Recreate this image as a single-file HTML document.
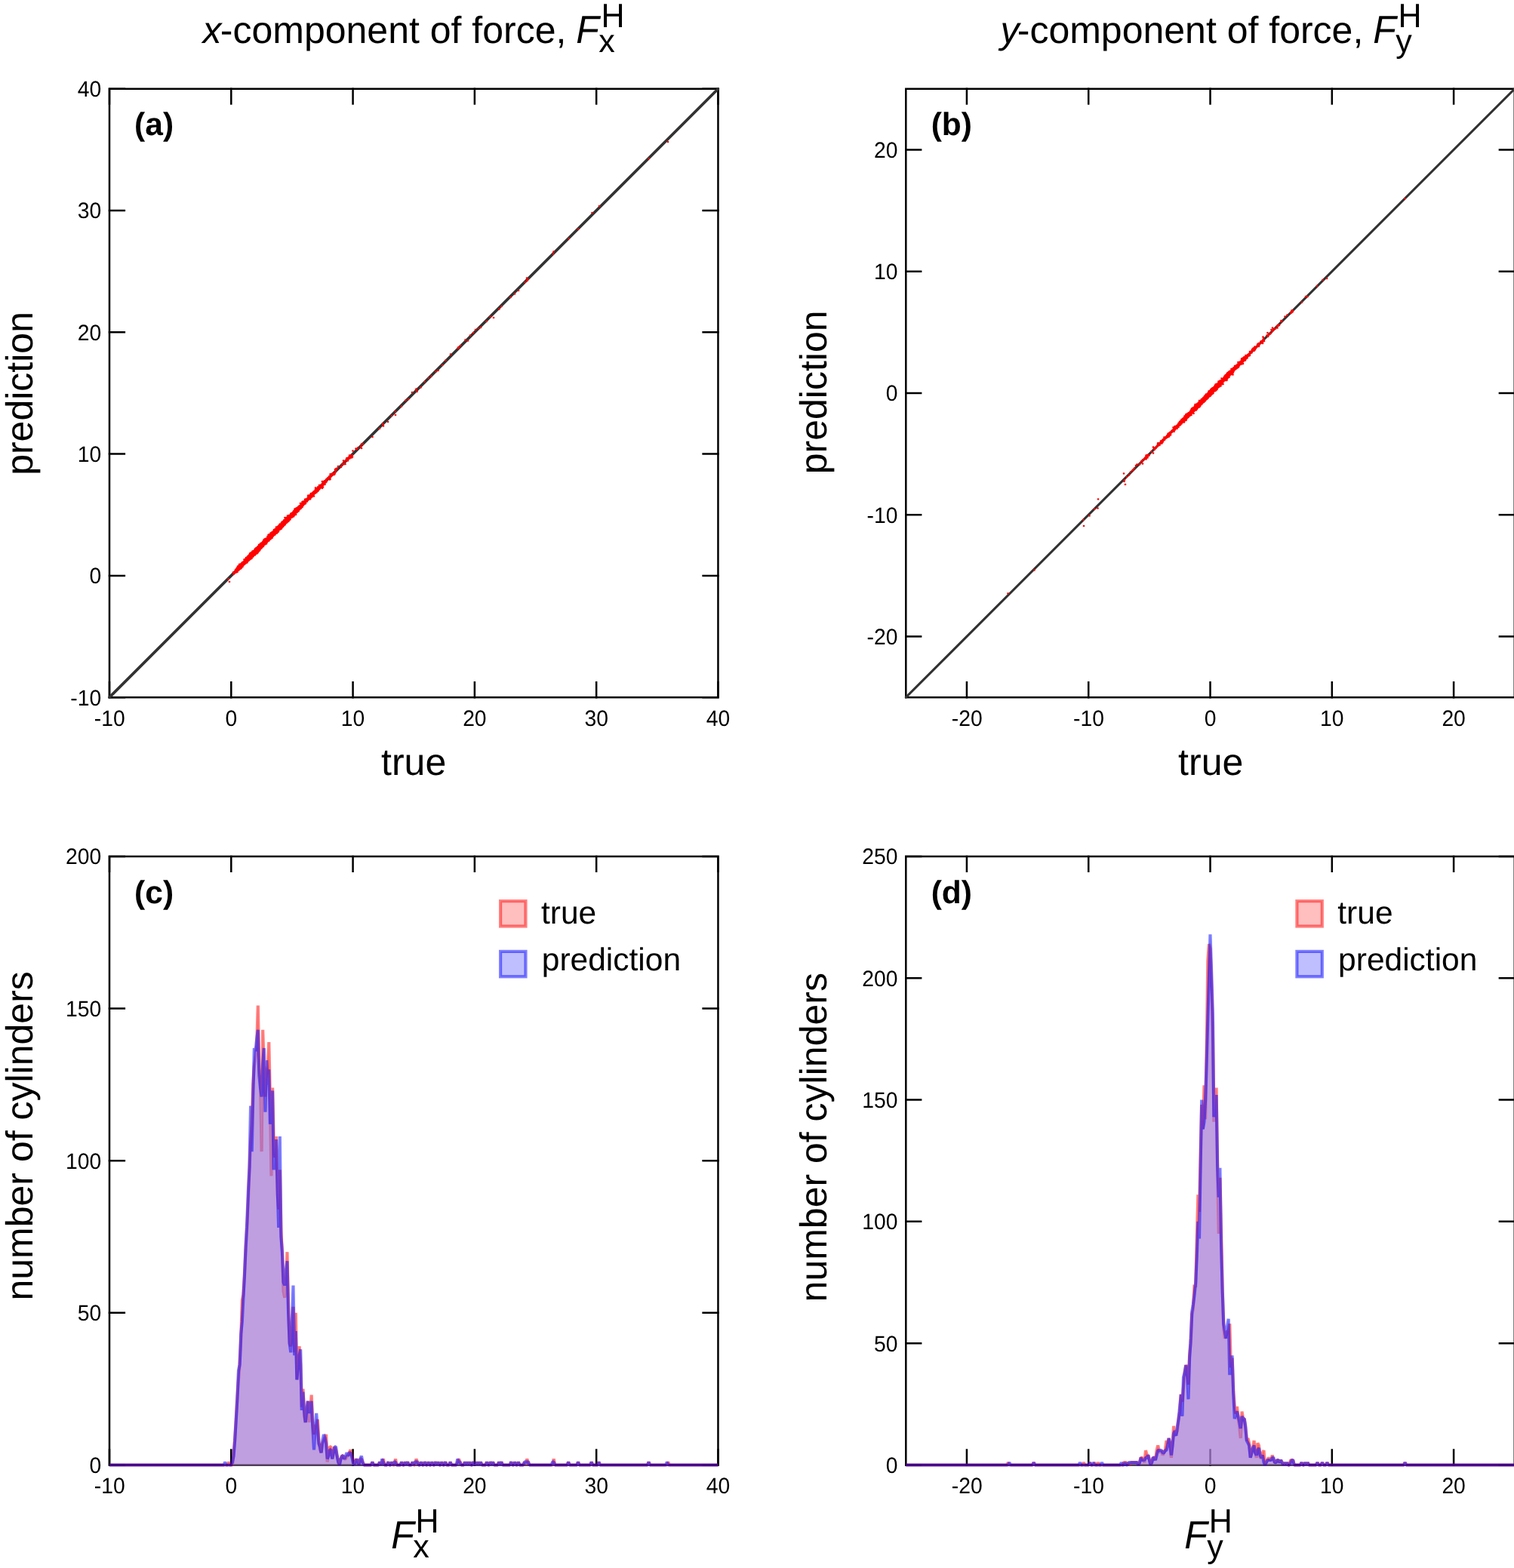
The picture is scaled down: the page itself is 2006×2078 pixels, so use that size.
<!DOCTYPE html>
<html lang="en"><head><meta charset="utf-8"><title>Prediction of hydrodynamic force components</title>
<style>
html,body{margin:0;padding:0;background:#fff}
body{width:2006px;height:2078px;overflow:hidden}
svg{display:block;font-family:"Liberation Sans", Arial, Helvetica, sans-serif;fill:#000;text-rendering:geometricPrecision}
.ax{fill:none;stroke:#000;stroke-width:2.5;stroke-linecap:butt;stroke-linejoin:miter}
.dg{fill:none;stroke:#333;stroke-linecap:round}
.dot{fill:none;stroke:#f00;stroke-width:2.7;stroke-linecap:round}
.rf{fill:#ff8080;fill-opacity:.5;stroke:none}.bf{fill:#8080ff;fill-opacity:.5;stroke:none}
.rl{fill:none;stroke:#f00;stroke-opacity:.5;stroke-width:4.17;stroke-linejoin:bevel}
.bl{fill:none;stroke:#00f;stroke-opacity:.5;stroke-width:4.17;stroke-linejoin:bevel}
.rb{fill:#ff8080;fill-opacity:.5;stroke:#f00;stroke-opacity:.5;stroke-width:4.17}
.bb{fill:#8080ff;fill-opacity:.5;stroke:#00f;stroke-opacity:.5;stroke-width:4.17}
.tk{font-size:28.3px}
.t{font-size:50px}.s{font-size:43px}.i{font-style:italic}
.pl{font-size:42.5px;font-weight:bold}.lg{font-size:42.5px}
</style></head><body>
<svg xmlns="http://www.w3.org/2000/svg" width="2006" height="2078" viewBox="0 0 2006 2078">
<rect x="0" y="0" width="2006" height="2078" fill="#fff"/>
<g>
<text class="t i" x="268.6" y="56.9">x</text>
<text class="t" x="291.8" y="56.9">-component of force,</text>
<text class="t i" transform="translate(763.3 56.9) scale(1 1.04)">F</text><text class="s" x="793.3" y="68.8">x</text><text class="s" transform="translate(796.5 35.95) scale(1 1.04)">H</text>
<clipPath id="ca"><rect x="142.91" y="115.67" width="810.62" height="810.62"/></clipPath>
<path class="ax" d="M145 925.45v-22.35M145 116.5v22.35M306.29 925.45v-22.35M306.29 116.5v22.35M467.58 925.45v-22.35M467.58 116.5v22.35M628.87 925.45v-22.35M628.87 116.5v22.35M790.16 925.45v-22.35M790.16 116.5v22.35M951.45 925.45v-22.35M951.45 116.5v22.35M143.75 924.2h22.35M952.7 924.2h-22.35M143.75 762.91h22.35M952.7 762.91h-22.35M143.75 601.62h22.35M952.7 601.62h-22.35M143.75 440.33h22.35M952.7 440.33h-22.35M143.75 279.04h22.35M952.7 279.04h-22.35M143.75 117.75h22.35M952.7 117.75h-22.35"/>
<rect class="ax" x="145" y="117.75" width="806.45" height="806.45"/>
<g clip-path="url(#ca)">
<path class="dg" stroke-width="3.75" d="M145 924.2L951.45 117.75"/>
<path class="dot" d="M302.5 767h0M304 771h0M309 758.5h0M309.5 759h0M309.5 761h0M310.5 758h0M310.5 759h0M310.5 759.5h0M311 758h0M311 759.5h0M311.5 758.5h0M312 755h0M312 757h0M312 757.5h0M312.5 755.5h0M312.5 756.5h0M312.5 757.5h0M312.5 758.5h0M313 755h0M313 756h0M313 756.5h0M313 757.5h0M313 758.5h0M313.5 753.5h0M313.5 754h0M313.5 754.5h0M313.5 756.5h0M314 752.5h0M314 753.5h0M314 754.5h0M314 755h0M314 756h0M314 756.5h0M314 757h0M314 757.5h0M314.5 753.5h0M314.5 754h0M314.5 755h0M314.5 758h0M315 750.5h0M315 751.5h0M315 753h0M315 753.5h0M315 754h0M315 755h0M315 755.5h0M315 756.5h0M315.5 753h0M315.5 753.5h0M315.5 754.5h0M315.5 755h0M315.5 755.5h0M316 750h0M316 752.5h0M316 753h0M316 755h0M316.5 750h0M316.5 752.5h0M316.5 753.5h0M316.5 754.5h0M316.5 755.5h0M317 748h0M317 750h0M317 751h0M317 752h0M317 753h0M317 753.5h0M317 754h0M317.5 750.5h0M317.5 751h0M317.5 751.5h0M317.5 752h0M317.5 752.5h0M317.5 753h0M318 749.5h0M318 750.5h0M318 751h0M318 751.5h0M318 752h0M318 752.5h0M318 753h0M318 754h0M318.5 747.5h0M318.5 748h0M318.5 749.5h0M318.5 750h0M318.5 750.5h0M318.5 751.5h0M318.5 752.5h0M319 747.5h0M319 748.5h0M319 749.5h0M319 750.5h0M319 752h0M319 753.5h0M319.5 748.5h0M319.5 749h0M319.5 749.5h0M319.5 750h0M319.5 750.5h0M319.5 751.5h0M320 747h0M320 748h0M320 748.5h0M320 749h0M320 749.5h0M320 750h0M320 750.5h0M320 751h0M320 751.5h0M320 752h0M320 752.5h0M320.5 746h0M320.5 746.5h0M320.5 747h0M320.5 747.5h0M320.5 748h0M320.5 748.5h0M320.5 749h0M320.5 749.5h0M321 745.5h0M321 747h0M321 747.5h0M321 748h0M321 748.5h0M321 749h0M321 749.5h0M321 750h0M321 750.5h0M321.5 745h0M321.5 746h0M321.5 746.5h0M321.5 747h0M321.5 748h0M321.5 748.5h0M321.5 749h0M321.5 750h0M321.5 750.5h0M321.5 751h0M322 745h0M322 746h0M322 746.5h0M322 747h0M322 747.5h0M322 748h0M322 749h0M322.5 744.5h0M322.5 745h0M322.5 745.5h0M322.5 746h0M322.5 746.5h0M322.5 747h0M322.5 747.5h0M322.5 748.5h0M322.5 749h0M323 744.5h0M323 745.5h0M323 746h0M323 746.5h0M323 747h0M323 747.5h0M323 748.5h0M323.5 741.5h0M323.5 743.5h0M323.5 744h0M323.5 744.5h0M323.5 745h0M323.5 745.5h0M323.5 746h0M323.5 746.5h0M323.5 747h0M323.5 748h0M324 743h0M324 743.5h0M324 744h0M324 745h0M324 745.5h0M324 746h0M324 746.5h0M324 747h0M324 747.5h0M324.5 742h0M324.5 742.5h0M324.5 743h0M324.5 744h0M324.5 744.5h0M324.5 745h0M324.5 745.5h0M324.5 746h0M325 742h0M325 742.5h0M325 743h0M325 743.5h0M325 744h0M325 744.5h0M325 745h0M325 747h0M325.5 740.5h0M325.5 741.5h0M325.5 742h0M325.5 742.5h0M325.5 743h0M325.5 743.5h0M325.5 744h0M325.5 744.5h0M325.5 745h0M325.5 745.5h0M325.5 746h0M325.5 746.5h0M326 739h0M326 740h0M326 741h0M326 741.5h0M326 742h0M326 742.5h0M326 743h0M326 744h0M326 744.5h0M326 746h0M326.5 740h0M326.5 741h0M326.5 741.5h0M326.5 742h0M326.5 742.5h0M326.5 743h0M326.5 743.5h0M326.5 744h0M326.5 744.5h0M327 738.5h0M327 739.5h0M327 740.5h0M327 741h0M327 741.5h0M327 742h0M327 742.5h0M327 743h0M327 743.5h0M327 744h0M327.5 738.5h0M327.5 739h0M327.5 740.5h0M327.5 741h0M327.5 741.5h0M327.5 742h0M327.5 742.5h0M327.5 743h0M327.5 743.5h0M327.5 744h0M327.5 745.5h0M328 738h0M328 738.5h0M328 739.5h0M328 740h0M328 740.5h0M328 741h0M328 741.5h0M328 742h0M328 743h0M328 743.5h0M328 744h0M328.5 737h0M328.5 738h0M328.5 738.5h0M328.5 739h0M328.5 739.5h0M328.5 740h0M328.5 740.5h0M328.5 741h0M328.5 741.5h0M328.5 742h0M328.5 742.5h0M328.5 743.5h0M329 736.5h0M329 737.5h0M329 738h0M329 738.5h0M329 739h0M329 739.5h0M329 740h0M329 740.5h0M329 741h0M329 741.5h0M329 742h0M329 743h0M329.5 736.5h0M329.5 737.5h0M329.5 738h0M329.5 738.5h0M329.5 739h0M329.5 739.5h0M329.5 740h0M329.5 740.5h0M329.5 741h0M329.5 741.5h0M329.5 742h0M329.5 743h0M330 736h0M330 736.5h0M330 737h0M330 737.5h0M330 738h0M330 738.5h0M330 739h0M330 739.5h0M330 740h0M330 740.5h0M330 741h0M330 742h0M330.5 735h0M330.5 737h0M330.5 737.5h0M330.5 738h0M330.5 738.5h0M330.5 739h0M330.5 739.5h0M330.5 740h0M330.5 741h0M330.5 741.5h0M331 734h0M331 735.5h0M331 736h0M331 737h0M331 737.5h0M331 738h0M331 738.5h0M331 739.5h0M331 740h0M331 741h0M331 741.5h0M331.5 733h0M331.5 734h0M331.5 734.5h0M331.5 736h0M331.5 736.5h0M331.5 737h0M331.5 737.5h0M331.5 738h0M331.5 738.5h0M331.5 739h0M331.5 739.5h0M331.5 741h0M332 733h0M332 734h0M332 735h0M332 735.5h0M332 736h0M332 736.5h0M332 737h0M332 737.5h0M332 738h0M332 738.5h0M332 739h0M332 739.5h0M332 740h0M332 740.5h0M332.5 734h0M332.5 734.5h0M332.5 735h0M332.5 735.5h0M332.5 736h0M332.5 736.5h0M332.5 737h0M332.5 737.5h0M332.5 738h0M332.5 739.5h0M332.5 740.5h0M333 733h0M333 734.5h0M333 735h0M333 735.5h0M333 736h0M333 736.5h0M333 737h0M333 737.5h0M333 738h0M333.5 732h0M333.5 732.5h0M333.5 733h0M333.5 733.5h0M333.5 734h0M333.5 734.5h0M333.5 735h0M333.5 735.5h0M333.5 736h0M333.5 736.5h0M333.5 737h0M333.5 738h0M333.5 740h0M334 732h0M334 733h0M334 733.5h0M334 734h0M334 734.5h0M334 735h0M334 735.5h0M334 736h0M334 736.5h0M334 737h0M334 737.5h0M334 738h0M334.5 730.5h0M334.5 731h0M334.5 731.5h0M334.5 732.5h0M334.5 733h0M334.5 733.5h0M334.5 734h0M334.5 734.5h0M334.5 735h0M334.5 735.5h0M334.5 736h0M334.5 736.5h0M334.5 737.5h0M335 731h0M335 732h0M335 732.5h0M335 733h0M335 733.5h0M335 734h0M335 734.5h0M335 735h0M335 735.5h0M335 736.5h0M335 737.5h0M335 738h0M335.5 731.5h0M335.5 732h0M335.5 732.5h0M335.5 733h0M335.5 733.5h0M335.5 734h0M335.5 734.5h0M335.5 735h0M335.5 735.5h0M335.5 736h0M335.5 737h0M336 730h0M336 730.5h0M336 731h0M336 731.5h0M336 732h0M336 732.5h0M336 733h0M336 733.5h0M336 734h0M336 734.5h0M336 735.5h0M336 736.5h0M336.5 730h0M336.5 730.5h0M336.5 731h0M336.5 731.5h0M336.5 732h0M336.5 732.5h0M336.5 733h0M336.5 733.5h0M336.5 734h0M336.5 734.5h0M336.5 735h0M337 729.5h0M337 730h0M337 730.5h0M337 731h0M337 731.5h0M337 732h0M337 732.5h0M337 733h0M337 733.5h0M337 734h0M337 734.5h0M337 735h0M337.5 728.5h0M337.5 730h0M337.5 730.5h0M337.5 731h0M337.5 731.5h0M337.5 732h0M337.5 732.5h0M337.5 733h0M337.5 733.5h0M337.5 734h0M337.5 735.5h0M338 727.5h0M338 729h0M338 729.5h0M338 730h0M338 730.5h0M338 731h0M338 731.5h0M338 732h0M338 732.5h0M338 733h0M338 733.5h0M338 734h0M338 735.5h0M338.5 727h0M338.5 728h0M338.5 728.5h0M338.5 729h0M338.5 729.5h0M338.5 730h0M338.5 730.5h0M338.5 731h0M338.5 731.5h0M338.5 732h0M338.5 732.5h0M338.5 733.5h0M338.5 734.5h0M339 727h0M339 727.5h0M339 728h0M339 728.5h0M339 729h0M339 729.5h0M339 730h0M339 730.5h0M339 731h0M339 731.5h0M339 732h0M339 732.5h0M339 733h0M339.5 726h0M339.5 726.5h0M339.5 727h0M339.5 727.5h0M339.5 728h0M339.5 728.5h0M339.5 729h0M339.5 729.5h0M339.5 730h0M339.5 730.5h0M339.5 731h0M339.5 731.5h0M339.5 732h0M340 726.5h0M340 727h0M340 727.5h0M340 728h0M340 728.5h0M340 729h0M340 729.5h0M340 730h0M340 730.5h0M340 731h0M340 731.5h0M340.5 726.5h0M340.5 727h0M340.5 727.5h0M340.5 728h0M340.5 728.5h0M340.5 729h0M340.5 729.5h0M340.5 730h0M340.5 730.5h0M340.5 731h0M340.5 731.5h0M340.5 733.5h0M341 725.5h0M341 726h0M341 726.5h0M341 727h0M341 727.5h0M341 728h0M341 728.5h0M341 729h0M341 729.5h0M341 730.5h0M341.5 724.5h0M341.5 725h0M341.5 725.5h0M341.5 726h0M341.5 726.5h0M341.5 727h0M341.5 727.5h0M341.5 728h0M341.5 728.5h0M341.5 729h0M341.5 729.5h0M341.5 730h0M341.5 730.5h0M341.5 731h0M341.5 732.5h0M342 724h0M342 724.5h0M342 725h0M342 725.5h0M342 726h0M342 726.5h0M342 727h0M342 728h0M342 729h0M342 729.5h0M342 730h0M342.5 724h0M342.5 724.5h0M342.5 725h0M342.5 725.5h0M342.5 726h0M342.5 726.5h0M342.5 727h0M342.5 727.5h0M342.5 728h0M342.5 728.5h0M342.5 729h0M342.5 730.5h0M342.5 731h0M343 722h0M343 723h0M343 723.5h0M343 724.5h0M343 725h0M343 725.5h0M343 726h0M343 726.5h0M343 727h0M343 727.5h0M343 728h0M343 728.5h0M343.5 722h0M343.5 723.5h0M343.5 724h0M343.5 724.5h0M343.5 725h0M343.5 725.5h0M343.5 726h0M343.5 726.5h0M343.5 727h0M343.5 727.5h0M344 722h0M344 722.5h0M344 723h0M344 723.5h0M344 724h0M344 724.5h0M344 725h0M344 725.5h0M344 726h0M344 726.5h0M344 727h0M344 728h0M344 728.5h0M344 729.5h0M344.5 721.5h0M344.5 722h0M344.5 722.5h0M344.5 723h0M344.5 723.5h0M344.5 724h0M344.5 724.5h0M344.5 725h0M344.5 725.5h0M344.5 726h0M344.5 726.5h0M344.5 727h0M344.5 728.5h0M345 720.5h0M345 721.5h0M345 722h0M345 722.5h0M345 723h0M345 723.5h0M345 724h0M345 724.5h0M345 725h0M345 725.5h0M345 726h0M345 726.5h0M345 727.5h0M345.5 721h0M345.5 721.5h0M345.5 722h0M345.5 722.5h0M345.5 723h0M345.5 723.5h0M345.5 724h0M345.5 724.5h0M345.5 725h0M345.5 725.5h0M345.5 726h0M345.5 726.5h0M346 721h0M346 721.5h0M346 722h0M346 722.5h0M346 723h0M346 723.5h0M346 724h0M346 724.5h0M346 725h0M346 725.5h0M346 726h0M346 726.5h0M346.5 719.5h0M346.5 720h0M346.5 720.5h0M346.5 721h0M346.5 721.5h0M346.5 722h0M346.5 722.5h0M346.5 723h0M346.5 723.5h0M346.5 724h0M346.5 725.5h0M346.5 726h0M346.5 726.5h0M347 720h0M347 720.5h0M347 721h0M347 721.5h0M347 722h0M347 722.5h0M347 723h0M347 723.5h0M347 724h0M347 724.5h0M347 725h0M347 725.5h0M347.5 719h0M347.5 719.5h0M347.5 720h0M347.5 720.5h0M347.5 721h0M347.5 721.5h0M347.5 722h0M347.5 722.5h0M347.5 723h0M347.5 723.5h0M347.5 725h0M348 718.5h0M348 719h0M348 719.5h0M348 720h0M348 720.5h0M348 721h0M348 721.5h0M348 722h0M348 722.5h0M348 723h0M348 723.5h0M348.5 717.5h0M348.5 718h0M348.5 718.5h0M348.5 719h0M348.5 719.5h0M348.5 720h0M348.5 720.5h0M348.5 721h0M348.5 721.5h0M348.5 722h0M348.5 722.5h0M348.5 723h0M348.5 724h0M349 718h0M349 718.5h0M349 719h0M349 719.5h0M349 720h0M349 720.5h0M349 721h0M349 721.5h0M349 722h0M349 723h0M349 724h0M349.5 715.5h0M349.5 716h0M349.5 717h0M349.5 717.5h0M349.5 718h0M349.5 718.5h0M349.5 719h0M349.5 719.5h0M349.5 720h0M349.5 720.5h0M349.5 721h0M349.5 721.5h0M349.5 722h0M349.5 722.5h0M350 715.5h0M350 716h0M350 717h0M350 717.5h0M350 718h0M350 718.5h0M350 719h0M350 719.5h0M350 720h0M350 720.5h0M350 721h0M350 721.5h0M350 722h0M350.5 714.5h0M350.5 715.5h0M350.5 716.5h0M350.5 717.5h0M350.5 718h0M350.5 718.5h0M350.5 719h0M350.5 719.5h0M350.5 720h0M350.5 720.5h0M350.5 721.5h0M351 715.5h0M351 716h0M351 716.5h0M351 717.5h0M351 718h0M351 718.5h0M351 719h0M351 719.5h0M351 720h0M351 720.5h0M351 721.5h0M351.5 714h0M351.5 715h0M351.5 715.5h0M351.5 716h0M351.5 716.5h0M351.5 717h0M351.5 717.5h0M351.5 718h0M351.5 718.5h0M351.5 719h0M351.5 720h0M351.5 720.5h0M351.5 721h0M352 714h0M352 714.5h0M352 715h0M352 715.5h0M352 716h0M352 716.5h0M352 717h0M352 717.5h0M352 718h0M352 718.5h0M352 719h0M352 719.5h0M352 720.5h0M352.5 714.5h0M352.5 715h0M352.5 715.5h0M352.5 716h0M352.5 716.5h0M352.5 717h0M352.5 717.5h0M352.5 718h0M352.5 718.5h0M352.5 719h0M352.5 719.5h0M352.5 720h0M353 714h0M353 714.5h0M353 715h0M353 715.5h0M353 716h0M353 716.5h0M353 717h0M353 717.5h0M353 718h0M353 718.5h0M353 720.5h0M353.5 714h0M353.5 714.5h0M353.5 715h0M353.5 715.5h0M353.5 716h0M353.5 716.5h0M353.5 717h0M353.5 717.5h0M353.5 718.5h0M354 712.5h0M354 713h0M354 713.5h0M354 714h0M354 714.5h0M354 715h0M354 715.5h0M354 716h0M354 716.5h0M354 717h0M354 717.5h0M354 718h0M354 718.5h0M354.5 711h0M354.5 712h0M354.5 712.5h0M354.5 713h0M354.5 713.5h0M354.5 714h0M354.5 714.5h0M354.5 715h0M354.5 715.5h0M354.5 716h0M354.5 716.5h0M354.5 717h0M355 711.5h0M355 712h0M355 712.5h0M355 713h0M355 713.5h0M355 714h0M355 714.5h0M355 715h0M355 715.5h0M355 716h0M355 716.5h0M355 717h0M355.5 709h0M355.5 710.5h0M355.5 711.5h0M355.5 712h0M355.5 712.5h0M355.5 713h0M355.5 713.5h0M355.5 714h0M355.5 714.5h0M355.5 715h0M355.5 715.5h0M355.5 716h0M355.5 716.5h0M355.5 717h0M356 708.5h0M356 709h0M356 711h0M356 711.5h0M356 712h0M356 712.5h0M356 713h0M356 713.5h0M356 714h0M356 714.5h0M356 715h0M356 715.5h0M356 716.5h0M356.5 709.5h0M356.5 710h0M356.5 710.5h0M356.5 711h0M356.5 711.5h0M356.5 712h0M356.5 712.5h0M356.5 713h0M356.5 713.5h0M356.5 714h0M356.5 714.5h0M356.5 716.5h0M357 708.5h0M357 709.5h0M357 710h0M357 710.5h0M357 711h0M357 711.5h0M357 712h0M357 712.5h0M357 713h0M357 713.5h0M357 714h0M357 714.5h0M357 715h0M357.5 709h0M357.5 710h0M357.5 710.5h0M357.5 711h0M357.5 711.5h0M357.5 712h0M357.5 712.5h0M357.5 713h0M357.5 713.5h0M358 708h0M358 709h0M358 709.5h0M358 710h0M358 710.5h0M358 711h0M358 711.5h0M358 712h0M358 712.5h0M358 713h0M358 713.5h0M358 714h0M358 714.5h0M358.5 706.5h0M358.5 707.5h0M358.5 708h0M358.5 708.5h0M358.5 709h0M358.5 709.5h0M358.5 710h0M358.5 710.5h0M358.5 711h0M358.5 711.5h0M358.5 712h0M358.5 712.5h0M358.5 713h0M358.5 714h0M358.5 714.5h0M359 707h0M359 709h0M359 709.5h0M359 710h0M359 710.5h0M359 711h0M359 711.5h0M359 712h0M359.5 706.5h0M359.5 707.5h0M359.5 708h0M359.5 708.5h0M359.5 709h0M359.5 709.5h0M359.5 710h0M359.5 710.5h0M359.5 711.5h0M359.5 712h0M359.5 712.5h0M359.5 713h0M360 705.5h0M360 707h0M360 707.5h0M360 708h0M360 708.5h0M360 709h0M360 709.5h0M360 710h0M360 710.5h0M360.5 705.5h0M360.5 706h0M360.5 707h0M360.5 707.5h0M360.5 708h0M360.5 708.5h0M360.5 709h0M360.5 709.5h0M360.5 710h0M360.5 710.5h0M360.5 711h0M360.5 713h0M361 705h0M361 705.5h0M361 706h0M361 706.5h0M361 707h0M361 707.5h0M361 708h0M361 708.5h0M361 709h0M361 709.5h0M361 710h0M361 710.5h0M361 711h0M361.5 705.5h0M361.5 706h0M361.5 706.5h0M361.5 707h0M361.5 707.5h0M361.5 708h0M361.5 708.5h0M361.5 709h0M361.5 709.5h0M361.5 710h0M361.5 710.5h0M361.5 711h0M362 704.5h0M362 705h0M362 706h0M362 706.5h0M362 707h0M362 707.5h0M362 708h0M362 708.5h0M362 709h0M362 709.5h0M362 710h0M362.5 703.5h0M362.5 704.5h0M362.5 705h0M362.5 705.5h0M362.5 706h0M362.5 706.5h0M362.5 707h0M362.5 707.5h0M362.5 708h0M362.5 708.5h0M363 702h0M363 704.5h0M363 705h0M363 705.5h0M363 706h0M363 706.5h0M363 707h0M363 707.5h0M363 708h0M363 708.5h0M363 709h0M363.5 702h0M363.5 702.5h0M363.5 703h0M363.5 703.5h0M363.5 704h0M363.5 704.5h0M363.5 705h0M363.5 705.5h0M363.5 706h0M363.5 706.5h0M363.5 707h0M363.5 707.5h0M363.5 708.5h0M364 701.5h0M364 702.5h0M364 703h0M364 703.5h0M364 704h0M364 704.5h0M364 705h0M364 705.5h0M364 706h0M364 706.5h0M364 707h0M364 707.5h0M364 709h0M364.5 702h0M364.5 703h0M364.5 703.5h0M364.5 704h0M364.5 704.5h0M364.5 705h0M364.5 705.5h0M364.5 706h0M364.5 706.5h0M364.5 708h0M365 701h0M365 702h0M365 702.5h0M365 703h0M365 703.5h0M365 704h0M365 704.5h0M365 705h0M365 705.5h0M365 706.5h0M365 707h0M365.5 702h0M365.5 702.5h0M365.5 703h0M365.5 703.5h0M365.5 704h0M365.5 704.5h0M365.5 705h0M365.5 705.5h0M365.5 707h0M366 698.5h0M366 699.5h0M366 701h0M366 701.5h0M366 702h0M366 702.5h0M366 703h0M366 703.5h0M366 704h0M366 704.5h0M366 705h0M366 705.5h0M366 706.5h0M366.5 699.5h0M366.5 700.5h0M366.5 701h0M366.5 701.5h0M366.5 702h0M366.5 702.5h0M366.5 703h0M366.5 703.5h0M366.5 704h0M366.5 704.5h0M366.5 705h0M367 698.5h0M367 699.5h0M367 700h0M367 700.5h0M367 701h0M367 702h0M367 702.5h0M367 703h0M367 703.5h0M367 706h0M367 706.5h0M367.5 699.5h0M367.5 700h0M367.5 700.5h0M367.5 701h0M367.5 701.5h0M367.5 702h0M367.5 702.5h0M367.5 703h0M367.5 703.5h0M367.5 704h0M367.5 705h0M368 698h0M368 698.5h0M368 699h0M368 700h0M368 700.5h0M368 701h0M368 701.5h0M368 702h0M368 702.5h0M368 703h0M368 703.5h0M368 704h0M368.5 697.5h0M368.5 698h0M368.5 699h0M368.5 699.5h0M368.5 700h0M368.5 700.5h0M368.5 701h0M368.5 701.5h0M368.5 702h0M368.5 702.5h0M368.5 703h0M368.5 703.5h0M368.5 705h0M369 697h0M369 698h0M369 698.5h0M369 699h0M369 699.5h0M369 700.5h0M369 701h0M369 702h0M369 703h0M369 703.5h0M369 704h0M369.5 697.5h0M369.5 698h0M369.5 698.5h0M369.5 699h0M369.5 699.5h0M369.5 700.5h0M369.5 701h0M369.5 701.5h0M369.5 702h0M369.5 702.5h0M370 695.5h0M370 697.5h0M370 698h0M370 698.5h0M370 699h0M370 699.5h0M370 700h0M370 700.5h0M370 701h0M370 701.5h0M370 702h0M370.5 697h0M370.5 697.5h0M370.5 698h0M370.5 698.5h0M370.5 699h0M370.5 699.5h0M370.5 700h0M370.5 700.5h0M370.5 701h0M370.5 701.5h0M370.5 702h0M371 694.5h0M371 695h0M371 696h0M371 696.5h0M371 697h0M371 697.5h0M371 698h0M371 698.5h0M371 699h0M371 699.5h0M371 700h0M371 700.5h0M371 701h0M371.5 696h0M371.5 696.5h0M371.5 697.5h0M371.5 698h0M371.5 698.5h0M371.5 699h0M371.5 699.5h0M371.5 700h0M371.5 700.5h0M372 695.5h0M372 696h0M372 696.5h0M372 697h0M372 697.5h0M372 698h0M372 698.5h0M372 699h0M372 700h0M372.5 694.5h0M372.5 695h0M372.5 695.5h0M372.5 696h0M372.5 696.5h0M372.5 697h0M372.5 697.5h0M372.5 698h0M372.5 698.5h0M372.5 699h0M372.5 699.5h0M372.5 701h0M373 692.5h0M373 693h0M373 694h0M373 695h0M373 695.5h0M373 696h0M373 697h0M373 697.5h0M373 698h0M373 698.5h0M373 699.5h0M373.5 693h0M373.5 694h0M373.5 695h0M373.5 695.5h0M373.5 696h0M373.5 697h0M373.5 697.5h0M373.5 698h0M373.5 699h0M373.5 699.5h0M374 691.5h0M374 693.5h0M374 694h0M374 694.5h0M374 695h0M374 695.5h0M374 696h0M374 696.5h0M374 697h0M374 698h0M374.5 691.5h0M374.5 693.5h0M374.5 694h0M374.5 694.5h0M374.5 695h0M374.5 695.5h0M374.5 696h0M374.5 696.5h0M374.5 697.5h0M375 692.5h0M375 693h0M375 693.5h0M375 694h0M375 694.5h0M375 695h0M375 695.5h0M375 696h0M375 698h0M375.5 691h0M375.5 691.5h0M375.5 692.5h0M375.5 693h0M375.5 693.5h0M375.5 694h0M375.5 694.5h0M375.5 695h0M375.5 695.5h0M375.5 697h0M376 690h0M376 690.5h0M376 691h0M376 691.5h0M376 692h0M376 692.5h0M376 693h0M376 693.5h0M376 694h0M376 695h0M376 696h0M376 696.5h0M376.5 689h0M376.5 690.5h0M376.5 691h0M376.5 691.5h0M376.5 692.5h0M376.5 693h0M376.5 693.5h0M376.5 694.5h0M376.5 695h0M376.5 695.5h0M377 689.5h0M377 690h0M377 690.5h0M377 691h0M377 691.5h0M377 692.5h0M377 693h0M377 693.5h0M377 694h0M377 695.5h0M377.5 686h0M377.5 690h0M377.5 690.5h0M377.5 691h0M377.5 691.5h0M377.5 692h0M377.5 692.5h0M377.5 693h0M377.5 693.5h0M377.5 694h0M377.5 695.5h0M378 688.5h0M378 689.5h0M378 690h0M378 690.5h0M378 691h0M378 691.5h0M378 692h0M378 693h0M378 693.5h0M378 694h0M378 694.5h0M378.5 687.5h0M378.5 688.5h0M378.5 689.5h0M378.5 690h0M378.5 690.5h0M378.5 691h0M378.5 691.5h0M378.5 692.5h0M378.5 693h0M378.5 693.5h0M379 686.5h0M379 688h0M379 689h0M379 689.5h0M379 690h0M379 690.5h0M379 691h0M379 691.5h0M379 692h0M379 692.5h0M379 693h0M379.5 687h0M379.5 688h0M379.5 688.5h0M379.5 689h0M379.5 690.5h0M379.5 691h0M379.5 691.5h0M379.5 693h0M380 686.5h0M380 687h0M380 687.5h0M380 688h0M380 689h0M380 689.5h0M380 690.5h0M380 691h0M380 691.5h0M380 692.5h0M380.5 685.5h0M380.5 686h0M380.5 686.5h0M380.5 687.5h0M380.5 688h0M380.5 688.5h0M380.5 689h0M380.5 689.5h0M380.5 690h0M380.5 691h0M380.5 692h0M381 683.5h0M381 685h0M381 685.5h0M381 686.5h0M381 687h0M381 687.5h0M381 688h0M381 688.5h0M381 689h0M381 690h0M381.5 685.5h0M381.5 686h0M381.5 686.5h0M381.5 687h0M381.5 688h0M381.5 688.5h0M381.5 689h0M381.5 689.5h0M381.5 690h0M382 685h0M382 687h0M382 687.5h0M382 688h0M382 688.5h0M382 689h0M382 690h0M382 691h0M382.5 684.5h0M382.5 685h0M382.5 685.5h0M382.5 686h0M382.5 686.5h0M382.5 687h0M382.5 687.5h0M382.5 688.5h0M382.5 690.5h0M383 683h0M383 683.5h0M383 684h0M383 684.5h0M383 685h0M383 685.5h0M383 686h0M383 686.5h0M383 687.5h0M383 688h0M383 689.5h0M383.5 683.5h0M383.5 684.5h0M383.5 685h0M383.5 685.5h0M383.5 686h0M383.5 687.5h0M383.5 688h0M384 683.5h0M384 684h0M384 684.5h0M384 685h0M384 685.5h0M384 686h0M384 686.5h0M384 688.5h0M384.5 683.5h0M384.5 684.5h0M384.5 685h0M384.5 685.5h0M384.5 686h0M384.5 686.5h0M384.5 687h0M384.5 688.5h0M385 681.5h0M385 682h0M385 683h0M385 683.5h0M385 684h0M385 684.5h0M385 685h0M385.5 680.5h0M385.5 681h0M385.5 682.5h0M385.5 683h0M385.5 684.5h0M385.5 685h0M385.5 685.5h0M386 681.5h0M386 682h0M386 682.5h0M386 683h0M386 683.5h0M386 684h0M386 684.5h0M386 685h0M386 686h0M386.5 680h0M386.5 680.5h0M386.5 681h0M386.5 681.5h0M386.5 682h0M386.5 682.5h0M386.5 683h0M386.5 684h0M386.5 685h0M387 680h0M387 681h0M387 681.5h0M387 682h0M387 682.5h0M387 683h0M387 683.5h0M387 684.5h0M387 685h0M387 685.5h0M387.5 680h0M387.5 681h0M387.5 681.5h0M387.5 682h0M387.5 682.5h0M387.5 683h0M388 680h0M388 680.5h0M388 681h0M388 681.5h0M388 682h0M388 682.5h0M388 684h0M388.5 678.5h0M388.5 679h0M388.5 680h0M388.5 681h0M388.5 681.5h0M389 677.5h0M389 678h0M389 678.5h0M389 679h0M389 679.5h0M389 680h0M389 680.5h0M389 681h0M389 681.5h0M389 682h0M389 682.5h0M389 683h0M389 684.5h0M389.5 677h0M389.5 677.5h0M389.5 678.5h0M389.5 679h0M389.5 680h0M389.5 681h0M389.5 681.5h0M389.5 683.5h0M390 676.5h0M390 677h0M390 677.5h0M390 678h0M390 678.5h0M390 679h0M390 679.5h0M390 680h0M390 681h0M390 682h0M390.5 674.5h0M390.5 676.5h0M390.5 678h0M390.5 679h0M390.5 679.5h0M390.5 680h0M391 676.5h0M391 677h0M391 678.5h0M391 679.5h0M391 680.5h0M391 681h0M391.5 675h0M391.5 675.5h0M391.5 676.5h0M391.5 677h0M391.5 677.5h0M391.5 678h0M391.5 678.5h0M391.5 679h0M391.5 679.5h0M391.5 680.5h0M392 674h0M392 674.5h0M392 675.5h0M392 676h0M392 676.5h0M392 677h0M392 677.5h0M392 678h0M392 678.5h0M392 682h0M392.5 673.5h0M392.5 674.5h0M392.5 675.5h0M392.5 676h0M392.5 676.5h0M392.5 677h0M392.5 677.5h0M392.5 678h0M392.5 678.5h0M392.5 679.5h0M393 673.5h0M393 675h0M393 675.5h0M393 676.5h0M393.5 673h0M393.5 674.5h0M393.5 675h0M393.5 675.5h0M393.5 676.5h0M393.5 677.5h0M393.5 679h0M394 673h0M394 674.5h0M394 676h0M394 676.5h0M394.5 673.5h0M394.5 674.5h0M394.5 676h0M394.5 677h0M395 672h0M395 673h0M395 673.5h0M395 674h0M395 675h0M395 675.5h0M395 676h0M395 677h0M395.5 671.5h0M395.5 672h0M395.5 672.5h0M395.5 673.5h0M395.5 674h0M395.5 675h0M395.5 676h0M395.5 676.5h0M395.5 677.5h0M396 671h0M396 672h0M396 672.5h0M396 673h0M396 673.5h0M396.5 670.5h0M396.5 671h0M396.5 671.5h0M396.5 672h0M396.5 672.5h0M396.5 674h0M396.5 675.5h0M397 671h0M397 671.5h0M397 672h0M397 672.5h0M397 673h0M397 674h0M397 674.5h0M397.5 670h0M397.5 671h0M397.5 671.5h0M397.5 672h0M397.5 673h0M397.5 674h0M397.5 674.5h0M398 667h0M398 670.5h0M398 671h0M398 671.5h0M398 672.5h0M398 673.5h0M398 674h0M398.5 669h0M398.5 669.5h0M398.5 670h0M398.5 671.5h0M398.5 672h0M398.5 672.5h0M398.5 673h0M398.5 674h0M399 669h0M399 669.5h0M399 670.5h0M399.5 667h0M399.5 668h0M399.5 669h0M399.5 672.5h0M400 667.5h0M400 668h0M400 668.5h0M400 669h0M400 669.5h0M400 670h0M400.5 665h0M400.5 666.5h0M400.5 667.5h0M400.5 668h0M400.5 668.5h0M400.5 669.5h0M400.5 670h0M400.5 672h0M401 665.5h0M401 667h0M401 667.5h0M401 668h0M401 668.5h0M401 669h0M401 670h0M401 670.5h0M401.5 665h0M401.5 665.5h0M401.5 667h0M401.5 669h0M401.5 669.5h0M402 664.5h0M402 665.5h0M402 669.5h0M402.5 666h0M402.5 666.5h0M402.5 667h0M402.5 668.5h0M403 665h0M403 667.5h0M403.5 665h0M403.5 666.5h0M403.5 667.5h0M403.5 668h0M404 662h0M404 665h0M404 666h0M404 667.5h0M404.5 661.5h0M404.5 662.5h0M404.5 665.5h0M404.5 666h0M404.5 667.5h0M405 663h0M405 664h0M405 664.5h0M405 667h0M405.5 663h0M406 662.5h0M406 663h0M406 663.5h0M406.5 661.5h0M406.5 662h0M406.5 662.5h0M406.5 663h0M407 660.5h0M407 661.5h0M407 662.5h0M407 663h0M407 663.5h0M407 664h0M407 664.5h0M407.5 661.5h0M407.5 663h0M408 657.5h0M408 660h0M408 660.5h0M408 661h0M408 661.5h0M408.5 656.5h0M408.5 658.5h0M408.5 659h0M408.5 660h0M408.5 660.5h0M408.5 661h0M408.5 662.5h0M409 659h0M409 659.5h0M409 660.5h0M409.5 659h0M409.5 659.5h0M409.5 660h0M410 658.5h0M410 659h0M410 660h0M410.5 657.5h0M410.5 658.5h0M410.5 659h0M410.5 660h0M411 656h0M411 657h0M411 657.5h0M411 661.5h0M411.5 655h0M411.5 656.5h0M411.5 657h0M411.5 657.5h0M411.5 658h0M411.5 660.5h0M412 654h0M412 654.5h0M412 655.5h0M412 656.5h0M412 657.5h0M412 658.5h0M412 659h0M412.5 654.5h0M412.5 657.5h0M412.5 658h0M412.5 658.5h0M413 655.5h0M413 656.5h0M413 657h0M413.5 654h0M413.5 655h0M413.5 655.5h0M413.5 657h0M413.5 658.5h0M414 653h0M414 653.5h0M414 654h0M414 655h0M414 655.5h0M414.5 653h0M414.5 654.5h0M414.5 655.5h0M415 653.5h0M415 654h0M415 656h0M415.5 651.5h0M415.5 653h0M415.5 654h0M416 652h0M416 653.5h0M416 655h0M416 657.5h0M416.5 652.5h0M417 650.5h0M417 651.5h0M417.5 651h0M417.5 652.5h0M418 646.5h0M418 648.5h0M418 649.5h0M418 650.5h0M418 652h0M418 652.5h0M418 653.5h0M418.5 649h0M418.5 650h0M418.5 651.5h0M418.5 652.5h0M419 649.5h0M419 651h0M419 652.5h0M419.5 649.5h0M419.5 650h0M419.5 652.5h0M420 647h0M420 649.5h0M420.5 649h0M420.5 649.5h0M421 645.5h0M421 646.5h0M421 647.5h0M421 648h0M421 649.5h0M421 650.5h0M421 651h0M421.5 645.5h0M421.5 646h0M421.5 647h0M421.5 648.5h0M421.5 650.5h0M422 647h0M422 647.5h0M422.5 646h0M422.5 646.5h0M422.5 649h0M423 643h0M423 645h0M423 646h0M423.5 646.5h0M423.5 648h0M424 645h0M424 647h0M424.5 646.5h0M425.5 642.5h0M426 642h0M426 643.5h0M426.5 645.5h0M427 638h0M427 638.5h0M427 643h0M427 643.5h0M427 647h0M427.5 643.5h0M428 641h0M428 643h0M428 645.5h0M428.5 638.5h0M429 638h0M429 641.5h0M429 642h0M429.5 639.5h0M430 637.5h0M430 639h0M430.5 637h0M430.5 638h0M430.5 638.5h0M430.5 639h0M430.5 642h0M431 639h0M431.5 637h0M431.5 637.5h0M431.5 638.5h0M431.5 639.5h0M432 637.5h0M432 638h0M432 638.5h0M432.5 635h0M432.5 635.5h0M432.5 638.5h0M433 636.5h0M434 633.5h0M434.5 633.5h0M435 633h0M435 634.5h0M436 631.5h0M437 635.5h0M437.5 628.5h0M437.5 631.5h0M437.5 632.5h0M437.5 635h0M438 628.5h0M438.5 631.5h0M439 630.5h0M439 631h0M439.5 628h0M439.5 629h0M440 629h0M440.5 629.5h0M441 627h0M441 628h0M441.5 627.5h0M442 628h0M442.5 629h0M443 628h0M443 629h0M443.5 628h0M444 622h0M444 626.5h0M444.5 624.5h0M445 623h0M445 623.5h0M445 625h0M445.5 621h0M446 621h0M446.5 621h0M447 621h0M448 618h0M452 618h0M452 619h0M453 615h0M453.5 615h0M454 614.5h0M454 615.5h0M455 610.5h0M455 614.5h0M455.5 615h0M456 614h0M457 611h0M457.5 615h0M459 608h0M459 610h0M459.5 607h0M460.5 609h0M461 610.5h0M462 606h0M462 607.5h0M462.5 606h0M463 603.5h0M463.5 605.5h0M463.5 606h0M463.5 607.5h0M464 604.5h0M464.5 604h0M464.5 605.5h0M465.5 605.5h0M466 606.5h0M466.5 603h0M467 605.5h0M467.5 597.5h0M471.5 594.5h0M472 595h0M473 595h0M474 593.5h0M478 591.5h0M478 592h0M479 588.5h0M479 594h0M481 588.5h0M493.5 579h0M503 568h0M507 561.5h0M507.5 562.5h0M508 564.5h0M514 559h0M519 551h0M524 545.5h0M524 550h0M532 538.5h0M537.5 530.5h0M541 529h0M546 520h0M551 516.5h0M551.5 515.5h0M552.5 519h0M557.5 513.5h0M562.5 506h0M567.5 501h0M571.5 498.5h0M577.5 492.5h0M580.5 491h0M586 484h0M590.5 477.5h0M597 469.5h0M606.5 461.5h0M607.5 460h0M608 461h0M610 458h0M616.5 450.5h0M620 451.5h0M623 444.5h0M627 441h0M630 437h0M633.5 435h0M637 434h0M644.5 426h0M649.5 419.5h0M654 421h0M661.5 409.5h0M664.5 406h0M676.5 394h0M682 389.5h0M687 385h0M695.5 374h0M698 368.5h0M698.5 372h0M699.5 370h0M733 336.5h0M733.5 333.5h0M753.5 316h0M766 303.5h0M784.5 282h0M794 273h0M859.5 210h0M885 188h0"/>
</g>
<g><text class="tk" text-anchor="middle" transform="translate(145.25 962.05) scale(1 1.045)">-10</text><text class="tk" text-anchor="middle" transform="translate(306.29 962.05) scale(1 1.045)">0</text><text class="tk" text-anchor="middle" transform="translate(467.58 962.05) scale(1 1.045)">10</text><text class="tk" text-anchor="middle" transform="translate(628.87 962.05) scale(1 1.045)">20</text><text class="tk" text-anchor="middle" transform="translate(790.16 962.05) scale(1 1.045)">30</text><text class="tk" text-anchor="middle" transform="translate(951.45 962.05) scale(1 1.045)">40</text><text class="tk" text-anchor="end" transform="translate(134.15 934.55) scale(1 1.045)">-10</text><text class="tk" text-anchor="end" transform="translate(134.15 773.26) scale(1 1.045)">0</text><text class="tk" text-anchor="end" transform="translate(134.15 611.97) scale(1 1.045)">10</text><text class="tk" text-anchor="end" transform="translate(134.15 450.68) scale(1 1.045)">20</text><text class="tk" text-anchor="end" transform="translate(134.15 289.39) scale(1 1.045)">30</text><text class="tk" text-anchor="end" transform="translate(134.15 128.1) scale(1 1.045)">40</text></g>
<text class="pl" x="178.1" y="179.45">(a)</text>
<text class="t" text-anchor="middle" transform="translate(42.8 521.45) rotate(-90)">prediction</text>
<text class="t" text-anchor="middle" x="548.15" y="1026.8">true</text>
</g>
<g>
<text class="t i" x="1325.4" y="56.9">y</text>
<text class="t" x="1347.75" y="56.9">-component of force,</text>
<text class="t i" transform="translate(1819.25 56.9) scale(1 1.04)">F</text><text class="s" x="1849.35" y="68.8">y</text><text class="s" transform="translate(1852.5 35.95) scale(1 1.04)">H</text>
<clipPath id="cb"><rect x="1198.21" y="115.67" width="810.62" height="810.62"/></clipPath>
<path class="ax" d="M1280.94 925.45v-22.35M1280.94 116.5v22.35M1442.23 925.45v-22.35M1442.23 116.5v22.35M1603.53 925.45v-22.35M1603.53 116.5v22.35M1764.82 925.45v-22.35M1764.82 116.5v22.35M1926.11 925.45v-22.35M1926.11 116.5v22.35M1199.05 843.56h22.35M2008 843.56h-22.35M1199.05 682.26h22.35M2008 682.26h-22.35M1199.05 520.98h22.35M2008 520.98h-22.35M1199.05 359.68h22.35M2008 359.68h-22.35M1199.05 198.39h22.35M2008 198.39h-22.35"/>
<rect class="ax" x="1200.3" y="117.75" width="806.45" height="806.45"/>
<g clip-path="url(#cb)">
<path class="dg" stroke-width="3.1" d="M1200.3 924.2L2006.75 117.75"/>
<path class="dot" d="M1335.5 786.5h0M1370.5 755.5h0M1435.5 689h0M1436 697h0M1443.5 683.5h0M1450 674.5h0M1454.5 673.5h0M1455 661.5h0M1489 627.5h0M1489.5 638h0M1490 636h0M1491 642h0M1493 632h0M1496 629.5h0M1498 625.5h0M1500.5 623.5h0M1501.5 622.5h0M1503 620.5h0M1505 617h0M1506.5 615.5h0M1510 615.5h0M1511 613.5h0M1512.5 611h0M1513.5 611h0M1514 609.5h0M1514 610h0M1514 614.5h0M1515.5 609h0M1517 607.5h0M1517.5 606.5h0M1518 606h0M1518.5 603.5h0M1518.5 605h0M1518.5 608h0M1518.5 608.5h0M1519 606h0M1519 606.5h0M1520 603h0M1520 605h0M1520.5 603.5h0M1520.5 606.5h0M1521.5 603h0M1522 604h0M1522.5 603h0M1522.5 603.5h0M1525.5 598.5h0M1528 592.5h0M1528 600.5h0M1528.5 593.5h0M1529.5 594.5h0M1529.5 596h0M1531 593h0M1531.5 594h0M1532 592.5h0M1532 593h0M1532.5 592h0M1533 591.5h0M1533.5 590.5h0M1533.5 591h0M1533.5 591.5h0M1534 588h0M1534 590h0M1534.5 587h0M1534.5 588h0M1534.5 589h0M1535 588h0M1535 589h0M1535 590h0M1535.5 588h0M1535.5 589.5h0M1535.5 590h0M1536.5 589h0M1536.5 590h0M1537 588h0M1538 584.5h0M1538 585.5h0M1538 586.5h0M1538 587.5h0M1538.5 584.5h0M1538.5 585.5h0M1538.5 587h0M1539.5 585.5h0M1539.5 587.5h0M1540 583.5h0M1540.5 586h0M1541 582.5h0M1541 584.5h0M1541.5 582h0M1542 582.5h0M1542.5 579.5h0M1542.5 580h0M1542.5 581.5h0M1543 582h0M1543 583h0M1543.5 580h0M1544 580h0M1544 580.5h0M1544.5 579.5h0M1544.5 581h0M1545 579h0M1545 580h0M1545.5 579.5h0M1546 578h0M1546 579h0M1546 579.5h0M1546 580h0M1546.5 577h0M1546.5 579.5h0M1547 577.5h0M1547 578h0M1547.5 575h0M1547.5 575.5h0M1547.5 576.5h0M1547.5 579h0M1548 574.5h0M1548 575h0M1548 576h0M1548 576.5h0M1548 578.5h0M1548 579h0M1548.5 574.5h0M1549 575.5h0M1549 578.5h0M1549.5 575.5h0M1549.5 576.5h0M1550 573h0M1550.5 573h0M1550.5 574.5h0M1550.5 575.5h0M1551 573h0M1551 574.5h0M1551 575.5h0M1551 576.5h0M1552.5 571h0M1553 571h0M1553 571.5h0M1553 572.5h0M1553.5 570h0M1553.5 571h0M1554 570.5h0M1554.5 566.5h0M1554.5 570h0M1554.5 570.5h0M1554.5 571.5h0M1555 569h0M1555 570h0M1555 570.5h0M1555 571h0M1555 571.5h0M1555.5 567.5h0M1555.5 572h0M1556 568h0M1556 568.5h0M1556 569h0M1556 570h0M1556.5 565h0M1556.5 567.5h0M1556.5 568.5h0M1556.5 569h0M1556.5 570h0M1557 566.5h0M1557 568.5h0M1557 569h0M1557.5 565.5h0M1557.5 567h0M1558 565h0M1558 565.5h0M1558 566h0M1558 566.5h0M1558 567h0M1558.5 566h0M1558.5 566.5h0M1558.5 567.5h0M1559 564h0M1559 564.5h0M1559.5 564.5h0M1559.5 565h0M1559.5 565.5h0M1559.5 568h0M1560 563.5h0M1560 564.5h0M1560.5 563.5h0M1560.5 564h0M1560.5 566h0M1561 562.5h0M1561 563.5h0M1561 564h0M1561 564.5h0M1561 565h0M1561.5 561h0M1561.5 566h0M1562 560.5h0M1562 561h0M1562 562h0M1562 563h0M1562 563.5h0M1562 564h0M1562.5 561h0M1562.5 562h0M1562.5 563h0M1562.5 563.5h0M1563 559h0M1563 560h0M1563 560.5h0M1563 561.5h0M1563 562h0M1563 563h0M1563 563.5h0M1563.5 559h0M1563.5 559.5h0M1563.5 560h0M1563.5 561.5h0M1563.5 563h0M1563.5 563.5h0M1564 558h0M1564 558.5h0M1564 559.5h0M1564 560h0M1564 560.5h0M1564 561.5h0M1564 562h0M1564 563h0M1564.5 559.5h0M1564.5 560h0M1564.5 561h0M1565 558h0M1565 558.5h0M1565 559h0M1565 559.5h0M1565 560h0M1565 560.5h0M1565 561h0M1565.5 556h0M1565.5 556.5h0M1565.5 557.5h0M1565.5 558h0M1565.5 559h0M1565.5 559.5h0M1565.5 560h0M1565.5 560.5h0M1565.5 561.5h0M1566 558h0M1566 558.5h0M1566 559h0M1566 560.5h0M1566.5 557h0M1566.5 557.5h0M1566.5 559h0M1566.5 560h0M1567 555h0M1567 555.5h0M1567 556h0M1567 556.5h0M1567 557h0M1567 558h0M1567 558.5h0M1567.5 555h0M1567.5 556h0M1567.5 556.5h0M1567.5 557h0M1567.5 557.5h0M1567.5 558h0M1567.5 558.5h0M1568 554h0M1568 555h0M1568 555.5h0M1568 556h0M1568 557h0M1568 557.5h0M1568 558h0M1568.5 554.5h0M1568.5 555h0M1568.5 555.5h0M1568.5 556h0M1568.5 557h0M1569 554h0M1569 554.5h0M1569 555h0M1569 555.5h0M1569 557h0M1569 559.5h0M1569.5 551.5h0M1569.5 552h0M1569.5 553h0M1569.5 553.5h0M1569.5 555h0M1569.5 555.5h0M1569.5 556.5h0M1569.5 557.5h0M1570 552h0M1570 552.5h0M1570 553h0M1570 553.5h0M1570 554.5h0M1570 555h0M1570 555.5h0M1570 556h0M1570 556.5h0M1570.5 553h0M1570.5 553.5h0M1570.5 554h0M1570.5 554.5h0M1570.5 555h0M1570.5 555.5h0M1570.5 556h0M1570.5 556.5h0M1571 550.5h0M1571 551h0M1571 552h0M1571 553h0M1571 553.5h0M1571 554h0M1571 554.5h0M1571 555h0M1571 555.5h0M1571.5 549h0M1571.5 551.5h0M1571.5 552h0M1571.5 552.5h0M1571.5 553h0M1571.5 553.5h0M1571.5 554.5h0M1571.5 555h0M1571.5 557h0M1572 551h0M1572 551.5h0M1572 552h0M1572 552.5h0M1572 553h0M1572 553.5h0M1572 555.5h0M1572.5 549.5h0M1572.5 550.5h0M1572.5 551h0M1572.5 551.5h0M1572.5 552h0M1572.5 552.5h0M1572.5 553h0M1572.5 554h0M1572.5 554.5h0M1573 548.5h0M1573 549h0M1573 551h0M1573 551.5h0M1573 552h0M1573 552.5h0M1573.5 550.5h0M1573.5 551h0M1573.5 551.5h0M1573.5 552h0M1573.5 552.5h0M1573.5 553h0M1573.5 553.5h0M1574 549h0M1574 550h0M1574 550.5h0M1574 551h0M1574 551.5h0M1574.5 547.5h0M1574.5 548.5h0M1574.5 549h0M1574.5 549.5h0M1574.5 550h0M1574.5 551h0M1574.5 552h0M1574.5 553h0M1575 547h0M1575 548h0M1575 548.5h0M1575 549h0M1575 550h0M1575 550.5h0M1575 551.5h0M1575 552h0M1575.5 547.5h0M1575.5 548h0M1575.5 548.5h0M1575.5 549h0M1575.5 550h0M1575.5 550.5h0M1575.5 551h0M1576 546.5h0M1576 547h0M1576 547.5h0M1576 548h0M1576 548.5h0M1576.5 547.5h0M1576.5 548h0M1576.5 548.5h0M1576.5 549h0M1576.5 549.5h0M1576.5 551h0M1577 545.5h0M1577 546h0M1577 546.5h0M1577 547h0M1577 547.5h0M1577 548h0M1577 549h0M1577 549.5h0M1577.5 544.5h0M1577.5 545h0M1577.5 545.5h0M1577.5 546.5h0M1577.5 547h0M1577.5 547.5h0M1577.5 548h0M1577.5 549.5h0M1578 544h0M1578 544.5h0M1578 546h0M1578 546.5h0M1578 547h0M1578 547.5h0M1578 548h0M1578 548.5h0M1578 549h0M1578.5 542.5h0M1578.5 543h0M1578.5 543.5h0M1578.5 544h0M1578.5 544.5h0M1578.5 545h0M1578.5 545.5h0M1578.5 546h0M1578.5 546.5h0M1578.5 547h0M1578.5 547.5h0M1578.5 548h0M1578.5 550h0M1579 542h0M1579 543h0M1579 543.5h0M1579 544h0M1579 544.5h0M1579 545h0M1579 545.5h0M1579 546h0M1579 546.5h0M1579 547h0M1579 547.5h0M1579.5 541h0M1579.5 543h0M1579.5 543.5h0M1579.5 544h0M1579.5 544.5h0M1579.5 545h0M1579.5 545.5h0M1579.5 546h0M1579.5 546.5h0M1580 541h0M1580 543h0M1580 543.5h0M1580 544h0M1580 544.5h0M1580 545h0M1580 545.5h0M1580 546h0M1580 547h0M1580.5 541.5h0M1580.5 542h0M1580.5 543.5h0M1580.5 544h0M1580.5 544.5h0M1580.5 545h0M1580.5 545.5h0M1580.5 546h0M1581 541h0M1581 542.5h0M1581 543h0M1581 543.5h0M1581 544h0M1581 544.5h0M1581 545h0M1581 545.5h0M1581 546h0M1581.5 540h0M1581.5 540.5h0M1581.5 541h0M1581.5 541.5h0M1581.5 542h0M1581.5 542.5h0M1581.5 543.5h0M1581.5 544h0M1581.5 544.5h0M1581.5 548h0M1582 540h0M1582 541h0M1582 541.5h0M1582 542h0M1582 542.5h0M1582 543h0M1582 544h0M1582 544.5h0M1582 545h0M1582.5 539.5h0M1582.5 540h0M1582.5 540.5h0M1582.5 541h0M1582.5 541.5h0M1582.5 542h0M1582.5 542.5h0M1582.5 543h0M1582.5 544.5h0M1583 538h0M1583 538.5h0M1583 539.5h0M1583 540h0M1583 540.5h0M1583 541.5h0M1583 542h0M1583 542.5h0M1583 543h0M1583 543.5h0M1583.5 536h0M1583.5 539h0M1583.5 539.5h0M1583.5 540h0M1583.5 540.5h0M1583.5 541.5h0M1583.5 542.5h0M1583.5 543.5h0M1584 537.5h0M1584 538h0M1584 539h0M1584 539.5h0M1584 540h0M1584 540.5h0M1584 541h0M1584 541.5h0M1584 542h0M1584 542.5h0M1584 543.5h0M1584.5 539h0M1584.5 539.5h0M1584.5 540h0M1584.5 540.5h0M1584.5 541.5h0M1584.5 542h0M1585 536.5h0M1585 537h0M1585 538h0M1585 538.5h0M1585 539h0M1585 539.5h0M1585 540h0M1585 540.5h0M1585 541h0M1585 543.5h0M1585.5 535.5h0M1585.5 537h0M1585.5 537.5h0M1585.5 538h0M1585.5 538.5h0M1585.5 539h0M1585.5 539.5h0M1585.5 540h0M1585.5 540.5h0M1585.5 541.5h0M1586 536h0M1586 536.5h0M1586 537h0M1586 538h0M1586 538.5h0M1586 539h0M1586 539.5h0M1586 540h0M1586 540.5h0M1586 541h0M1586 541.5h0M1586 542h0M1586.5 535.5h0M1586.5 536h0M1586.5 536.5h0M1586.5 537h0M1586.5 537.5h0M1586.5 538h0M1586.5 538.5h0M1586.5 539h0M1586.5 539.5h0M1586.5 540h0M1586.5 540.5h0M1587 534.5h0M1587 535h0M1587 536h0M1587 536.5h0M1587 537h0M1587 537.5h0M1587 538h0M1587 538.5h0M1587 539h0M1587 539.5h0M1587 540.5h0M1587.5 535.5h0M1587.5 536h0M1587.5 536.5h0M1587.5 537h0M1587.5 537.5h0M1587.5 538h0M1587.5 538.5h0M1587.5 539h0M1587.5 540h0M1588 533.5h0M1588 535h0M1588 535.5h0M1588 536h0M1588 536.5h0M1588 537h0M1588 537.5h0M1588 538h0M1588 539h0M1588.5 534h0M1588.5 534.5h0M1588.5 535h0M1588.5 535.5h0M1588.5 536h0M1588.5 536.5h0M1588.5 537h0M1588.5 537.5h0M1588.5 538h0M1589 531h0M1589 532.5h0M1589 533h0M1589 533.5h0M1589 534h0M1589 534.5h0M1589 535h0M1589 535.5h0M1589 536h0M1589 536.5h0M1589 537h0M1589 537.5h0M1589 538h0M1589 539h0M1589 539.5h0M1589.5 532h0M1589.5 532.5h0M1589.5 533h0M1589.5 533.5h0M1589.5 534h0M1589.5 534.5h0M1589.5 535h0M1589.5 535.5h0M1589.5 536h0M1589.5 536.5h0M1589.5 537h0M1589.5 537.5h0M1589.5 538h0M1589.5 539h0M1590 531h0M1590 531.5h0M1590 532.5h0M1590 533h0M1590 533.5h0M1590 534h0M1590 534.5h0M1590 535h0M1590 535.5h0M1590 536h0M1590 536.5h0M1590 537h0M1590.5 532.5h0M1590.5 533h0M1590.5 533.5h0M1590.5 534h0M1590.5 534.5h0M1590.5 535h0M1590.5 535.5h0M1590.5 536h0M1590.5 537h0M1590.5 537.5h0M1591 530.5h0M1591 531.5h0M1591 532h0M1591 532.5h0M1591 533h0M1591 533.5h0M1591 534h0M1591 534.5h0M1591 535h0M1591 535.5h0M1591.5 530.5h0M1591.5 531h0M1591.5 531.5h0M1591.5 532h0M1591.5 532.5h0M1591.5 533h0M1591.5 533.5h0M1591.5 534h0M1591.5 534.5h0M1591.5 535h0M1591.5 535.5h0M1592 529h0M1592 529.5h0M1592 530h0M1592 530.5h0M1592 531h0M1592 531.5h0M1592 532h0M1592 532.5h0M1592 533h0M1592 533.5h0M1592 534h0M1592 534.5h0M1592.5 529.5h0M1592.5 530h0M1592.5 530.5h0M1592.5 531h0M1592.5 531.5h0M1592.5 532h0M1592.5 532.5h0M1592.5 533h0M1592.5 533.5h0M1592.5 534h0M1592.5 534.5h0M1592.5 535.5h0M1593 529h0M1593 529.5h0M1593 530h0M1593 530.5h0M1593 531h0M1593 531.5h0M1593 532h0M1593 532.5h0M1593 533h0M1593 533.5h0M1593 534h0M1593.5 528.5h0M1593.5 529h0M1593.5 529.5h0M1593.5 530h0M1593.5 530.5h0M1593.5 531h0M1593.5 531.5h0M1593.5 532h0M1593.5 532.5h0M1593.5 533.5h0M1594 527.5h0M1594 528h0M1594 528.5h0M1594 529h0M1594 529.5h0M1594 530h0M1594 530.5h0M1594 531h0M1594 531.5h0M1594 532h0M1594 532.5h0M1594 533.5h0M1594.5 527h0M1594.5 527.5h0M1594.5 528.5h0M1594.5 529h0M1594.5 529.5h0M1594.5 530h0M1594.5 530.5h0M1594.5 531h0M1594.5 531.5h0M1594.5 532h0M1594.5 532.5h0M1595 526.5h0M1595 527.5h0M1595 528h0M1595 528.5h0M1595 529h0M1595 529.5h0M1595 530h0M1595 530.5h0M1595 531h0M1595 531.5h0M1595 532h0M1595 532.5h0M1595 533h0M1595.5 526.5h0M1595.5 527h0M1595.5 527.5h0M1595.5 528h0M1595.5 528.5h0M1595.5 529h0M1595.5 529.5h0M1595.5 530h0M1595.5 530.5h0M1595.5 531h0M1595.5 531.5h0M1596 525h0M1596 526h0M1596 526.5h0M1596 527h0M1596 527.5h0M1596 528h0M1596 528.5h0M1596 529h0M1596 529.5h0M1596 530h0M1596 530.5h0M1596 531.5h0M1596 532h0M1596.5 525h0M1596.5 525.5h0M1596.5 526h0M1596.5 526.5h0M1596.5 527h0M1596.5 527.5h0M1596.5 528h0M1596.5 528.5h0M1596.5 529h0M1596.5 529.5h0M1596.5 530h0M1596.5 530.5h0M1596.5 531h0M1597 524h0M1597 525h0M1597 525.5h0M1597 526h0M1597 526.5h0M1597 527h0M1597 527.5h0M1597 528h0M1597 528.5h0M1597 529h0M1597 529.5h0M1597 530h0M1597 531h0M1597.5 523.5h0M1597.5 524.5h0M1597.5 525h0M1597.5 525.5h0M1597.5 526h0M1597.5 526.5h0M1597.5 527h0M1597.5 527.5h0M1597.5 528h0M1597.5 528.5h0M1597.5 529h0M1597.5 529.5h0M1597.5 530h0M1598 522.5h0M1598 523.5h0M1598 524h0M1598 524.5h0M1598 525h0M1598 525.5h0M1598 526h0M1598 526.5h0M1598 527h0M1598 527.5h0M1598 528h0M1598 528.5h0M1598 529h0M1598.5 523.5h0M1598.5 524h0M1598.5 524.5h0M1598.5 525h0M1598.5 525.5h0M1598.5 526h0M1598.5 526.5h0M1598.5 527h0M1598.5 527.5h0M1598.5 528h0M1598.5 528.5h0M1599 523h0M1599 523.5h0M1599 524h0M1599 524.5h0M1599 525h0M1599 525.5h0M1599 526h0M1599 526.5h0M1599 527h0M1599 527.5h0M1599 528h0M1599 529h0M1599.5 523h0M1599.5 523.5h0M1599.5 524h0M1599.5 524.5h0M1599.5 525h0M1599.5 525.5h0M1599.5 526h0M1599.5 526.5h0M1599.5 527h0M1600 521.5h0M1600 522h0M1600 522.5h0M1600 523h0M1600 523.5h0M1600 524h0M1600 524.5h0M1600 525h0M1600 525.5h0M1600 526h0M1600 526.5h0M1600 527h0M1600 528h0M1600.5 521h0M1600.5 522h0M1600.5 522.5h0M1600.5 523h0M1600.5 523.5h0M1600.5 524h0M1600.5 524.5h0M1600.5 525h0M1600.5 525.5h0M1600.5 526h0M1600.5 526.5h0M1600.5 527h0M1600.5 527.5h0M1601 520.5h0M1601 521h0M1601 521.5h0M1601 522h0M1601 522.5h0M1601 523h0M1601 523.5h0M1601 524h0M1601 524.5h0M1601 525h0M1601 525.5h0M1601 526h0M1601 526.5h0M1601.5 518.5h0M1601.5 520.5h0M1601.5 521h0M1601.5 521.5h0M1601.5 522h0M1601.5 522.5h0M1601.5 523h0M1601.5 523.5h0M1601.5 524h0M1601.5 524.5h0M1601.5 525h0M1601.5 526h0M1602 519.5h0M1602 520h0M1602 520.5h0M1602 521h0M1602 521.5h0M1602 522h0M1602 522.5h0M1602 523h0M1602 523.5h0M1602 524h0M1602 524.5h0M1602.5 518h0M1602.5 518.5h0M1602.5 519h0M1602.5 519.5h0M1602.5 520h0M1602.5 520.5h0M1602.5 521h0M1602.5 521.5h0M1602.5 522h0M1602.5 522.5h0M1602.5 523h0M1602.5 523.5h0M1602.5 524h0M1602.5 524.5h0M1602.5 525h0M1603 518.5h0M1603 519h0M1603 519.5h0M1603 520h0M1603 520.5h0M1603 521h0M1603 521.5h0M1603 522h0M1603 522.5h0M1603 523h0M1603 523.5h0M1603 524h0M1603 525h0M1603.5 517.5h0M1603.5 518h0M1603.5 518.5h0M1603.5 519h0M1603.5 519.5h0M1603.5 520h0M1603.5 520.5h0M1603.5 521h0M1603.5 521.5h0M1603.5 522h0M1603.5 522.5h0M1603.5 523h0M1603.5 523.5h0M1603.5 525h0M1604 517h0M1604 518h0M1604 518.5h0M1604 519h0M1604 519.5h0M1604 520h0M1604 520.5h0M1604 521h0M1604 521.5h0M1604 522h0M1604 522.5h0M1604 523h0M1604 524h0M1604.5 516h0M1604.5 517h0M1604.5 517.5h0M1604.5 518h0M1604.5 518.5h0M1604.5 519h0M1604.5 519.5h0M1604.5 520h0M1604.5 520.5h0M1604.5 521h0M1604.5 521.5h0M1604.5 522h0M1604.5 522.5h0M1604.5 523h0M1604.5 523.5h0M1605 515.5h0M1605 516h0M1605 516.5h0M1605 517h0M1605 517.5h0M1605 518h0M1605 518.5h0M1605 519h0M1605 519.5h0M1605 520h0M1605 520.5h0M1605 521h0M1605 521.5h0M1605 522h0M1605 522.5h0M1605.5 515h0M1605.5 515.5h0M1605.5 516h0M1605.5 516.5h0M1605.5 517h0M1605.5 517.5h0M1605.5 518h0M1605.5 518.5h0M1605.5 519h0M1605.5 519.5h0M1605.5 520h0M1605.5 520.5h0M1605.5 521h0M1605.5 521.5h0M1605.5 522.5h0M1606 514.5h0M1606 516h0M1606 516.5h0M1606 517h0M1606 517.5h0M1606 518h0M1606 518.5h0M1606 519h0M1606 519.5h0M1606 520h0M1606 520.5h0M1606 521h0M1606 521.5h0M1606.5 515.5h0M1606.5 516h0M1606.5 516.5h0M1606.5 517h0M1606.5 517.5h0M1606.5 518h0M1606.5 518.5h0M1606.5 519h0M1606.5 519.5h0M1606.5 520h0M1606.5 520.5h0M1607 514h0M1607 514.5h0M1607 515h0M1607 515.5h0M1607 516h0M1607 516.5h0M1607 517h0M1607 517.5h0M1607 518h0M1607 518.5h0M1607 519h0M1607 519.5h0M1607 520h0M1607 521.5h0M1607.5 514.5h0M1607.5 515h0M1607.5 515.5h0M1607.5 516h0M1607.5 516.5h0M1607.5 517h0M1607.5 517.5h0M1607.5 518h0M1607.5 518.5h0M1607.5 519h0M1607.5 519.5h0M1607.5 521h0M1608 513.5h0M1608 514h0M1608 514.5h0M1608 515h0M1608 515.5h0M1608 516h0M1608 516.5h0M1608 517h0M1608 517.5h0M1608 518h0M1608 518.5h0M1608 519h0M1608.5 513h0M1608.5 513.5h0M1608.5 514h0M1608.5 514.5h0M1608.5 515h0M1608.5 515.5h0M1608.5 516h0M1608.5 516.5h0M1608.5 517h0M1608.5 517.5h0M1608.5 518h0M1608.5 518.5h0M1609 513h0M1609 513.5h0M1609 514h0M1609 514.5h0M1609 515h0M1609 515.5h0M1609 516h0M1609 516.5h0M1609 517.5h0M1609 518h0M1609.5 511.5h0M1609.5 512.5h0M1609.5 513h0M1609.5 513.5h0M1609.5 514h0M1609.5 514.5h0M1609.5 515h0M1609.5 515.5h0M1609.5 516h0M1609.5 516.5h0M1609.5 517h0M1609.5 518h0M1610 511h0M1610 511.5h0M1610 512.5h0M1610 513h0M1610 513.5h0M1610 514h0M1610 514.5h0M1610 515h0M1610 515.5h0M1610 516h0M1610 517h0M1610 517.5h0M1610.5 509.5h0M1610.5 510h0M1610.5 512h0M1610.5 512.5h0M1610.5 513h0M1610.5 513.5h0M1610.5 514h0M1610.5 514.5h0M1610.5 515h0M1610.5 515.5h0M1610.5 516h0M1610.5 516.5h0M1610.5 518h0M1611 510.5h0M1611 511h0M1611 511.5h0M1611 512h0M1611 512.5h0M1611 513h0M1611 513.5h0M1611 514h0M1611 514.5h0M1611 515h0M1611 515.5h0M1611 516h0M1611 516.5h0M1611 517h0M1611.5 509h0M1611.5 510.5h0M1611.5 511h0M1611.5 511.5h0M1611.5 512h0M1611.5 512.5h0M1611.5 513h0M1611.5 513.5h0M1611.5 514h0M1611.5 514.5h0M1611.5 515h0M1611.5 515.5h0M1611.5 516.5h0M1612 509h0M1612 509.5h0M1612 510h0M1612 510.5h0M1612 511h0M1612 511.5h0M1612 512h0M1612 512.5h0M1612 513h0M1612 513.5h0M1612 514h0M1612 514.5h0M1612 515h0M1612 515.5h0M1612 516.5h0M1612.5 509.5h0M1612.5 510.5h0M1612.5 511h0M1612.5 511.5h0M1612.5 512h0M1612.5 512.5h0M1612.5 513h0M1612.5 514h0M1612.5 514.5h0M1612.5 515.5h0M1612.5 516h0M1613 509h0M1613 509.5h0M1613 510h0M1613 510.5h0M1613 511h0M1613 511.5h0M1613 512h0M1613 512.5h0M1613 513h0M1613 513.5h0M1613 514h0M1613 514.5h0M1613.5 509h0M1613.5 509.5h0M1613.5 510h0M1613.5 510.5h0M1613.5 511h0M1613.5 511.5h0M1613.5 512h0M1613.5 512.5h0M1613.5 513.5h0M1614 507.5h0M1614 508h0M1614 508.5h0M1614 509h0M1614 509.5h0M1614 510h0M1614 510.5h0M1614 511h0M1614 511.5h0M1614 512h0M1614 512.5h0M1614 513.5h0M1614.5 505.5h0M1614.5 507h0M1614.5 507.5h0M1614.5 508h0M1614.5 508.5h0M1614.5 509h0M1614.5 509.5h0M1614.5 510h0M1614.5 510.5h0M1614.5 511h0M1614.5 512h0M1614.5 513h0M1615 506.5h0M1615 507h0M1615 507.5h0M1615 508h0M1615 508.5h0M1615 509h0M1615 509.5h0M1615 510h0M1615 510.5h0M1615 511h0M1615 511.5h0M1615 512.5h0M1615.5 505.5h0M1615.5 506h0M1615.5 506.5h0M1615.5 507h0M1615.5 507.5h0M1615.5 508h0M1615.5 508.5h0M1615.5 509h0M1615.5 509.5h0M1615.5 510h0M1615.5 510.5h0M1615.5 511h0M1615.5 512h0M1615.5 512.5h0M1616 506.5h0M1616 507h0M1616 507.5h0M1616 508h0M1616 508.5h0M1616 509h0M1616 509.5h0M1616 510h0M1616 510.5h0M1616 511h0M1616.5 504.5h0M1616.5 506h0M1616.5 506.5h0M1616.5 507h0M1616.5 507.5h0M1616.5 508h0M1616.5 508.5h0M1616.5 509h0M1616.5 510.5h0M1616.5 511h0M1617 505h0M1617 505.5h0M1617 506h0M1617 506.5h0M1617 507h0M1617 507.5h0M1617 508h0M1617 508.5h0M1617 509h0M1617 509.5h0M1617 510h0M1617 510.5h0M1617 511h0M1617.5 505.5h0M1617.5 506h0M1617.5 506.5h0M1617.5 507h0M1617.5 507.5h0M1617.5 508h0M1617.5 509h0M1617.5 509.5h0M1617.5 510h0M1617.5 511.5h0M1618 504.5h0M1618 505h0M1618 505.5h0M1618 506h0M1618 506.5h0M1618 507h0M1618 507.5h0M1618 508h0M1618 508.5h0M1618.5 501.5h0M1618.5 504h0M1618.5 504.5h0M1618.5 505h0M1618.5 505.5h0M1618.5 506h0M1618.5 506.5h0M1618.5 507h0M1618.5 507.5h0M1618.5 508.5h0M1619 504.5h0M1619 505h0M1619 505.5h0M1619 506h0M1619 506.5h0M1619 507h0M1619 507.5h0M1619 508.5h0M1619 509h0M1619.5 502h0M1619.5 503h0M1619.5 503.5h0M1619.5 504h0M1619.5 504.5h0M1619.5 505.5h0M1619.5 506h0M1619.5 506.5h0M1620 502h0M1620 503h0M1620 503.5h0M1620 504h0M1620 504.5h0M1620 505h0M1620 505.5h0M1620 506h0M1620 506.5h0M1620.5 502h0M1620.5 503h0M1620.5 503.5h0M1620.5 504h0M1620.5 504.5h0M1620.5 505h0M1620.5 505.5h0M1620.5 506h0M1620.5 509h0M1621 501.5h0M1621 502h0M1621 502.5h0M1621 503h0M1621 503.5h0M1621 504h0M1621 504.5h0M1621 505h0M1621 505.5h0M1621 506h0M1621.5 500.5h0M1621.5 501.5h0M1621.5 502.5h0M1621.5 503h0M1621.5 504h0M1621.5 504.5h0M1621.5 505h0M1622 500h0M1622 500.5h0M1622 501.5h0M1622 502h0M1622 502.5h0M1622 503h0M1622 503.5h0M1622.5 498.5h0M1622.5 499.5h0M1622.5 500.5h0M1622.5 501h0M1622.5 501.5h0M1622.5 502h0M1622.5 502.5h0M1622.5 503h0M1622.5 503.5h0M1622.5 504h0M1623 499.5h0M1623 500h0M1623 501h0M1623 502h0M1623 502.5h0M1623 503.5h0M1623 504h0M1623.5 497.5h0M1623.5 498.5h0M1623.5 499h0M1623.5 499.5h0M1623.5 500h0M1623.5 500.5h0M1623.5 501h0M1623.5 501.5h0M1623.5 502h0M1623.5 502.5h0M1623.5 504h0M1624 497h0M1624 498.5h0M1624 499h0M1624 499.5h0M1624 500h0M1624 501h0M1624 501.5h0M1624 502h0M1624 503h0M1624.5 498.5h0M1624.5 500h0M1624.5 501h0M1624.5 502h0M1624.5 502.5h0M1624.5 503h0M1625 497h0M1625 497.5h0M1625 498h0M1625 498.5h0M1625 499h0M1625 499.5h0M1625 500h0M1625 501h0M1625 501.5h0M1625 502h0M1625 502.5h0M1625.5 495.5h0M1625.5 497h0M1625.5 498h0M1625.5 499h0M1625.5 499.5h0M1625.5 500h0M1625.5 501.5h0M1625.5 502h0M1625.5 504h0M1626 495h0M1626 496h0M1626 497h0M1626 497.5h0M1626 498h0M1626 498.5h0M1626 499h0M1626 500h0M1626 502h0M1626.5 494h0M1626.5 495.5h0M1626.5 496h0M1626.5 497h0M1626.5 497.5h0M1626.5 498h0M1626.5 498.5h0M1626.5 499h0M1626.5 499.5h0M1627 495.5h0M1627 496h0M1627 496.5h0M1627 497h0M1627 497.5h0M1627 498h0M1627 498.5h0M1627 499.5h0M1627 500.5h0M1627.5 496h0M1627.5 497h0M1627.5 497.5h0M1627.5 498h0M1627.5 498.5h0M1627.5 499h0M1627.5 499.5h0M1628 493h0M1628 494.5h0M1628 495.5h0M1628 496h0M1628 496.5h0M1628 497h0M1628 497.5h0M1628 498h0M1628 498.5h0M1628.5 493.5h0M1628.5 494h0M1628.5 494.5h0M1628.5 495h0M1628.5 495.5h0M1628.5 496h0M1628.5 496.5h0M1628.5 497h0M1628.5 497.5h0M1628.5 498h0M1628.5 498.5h0M1628.5 500h0M1629 492h0M1629 492.5h0M1629 493h0M1629 494h0M1629 495h0M1629 495.5h0M1629 496h0M1629 496.5h0M1629 497.5h0M1629 498h0M1629.5 492.5h0M1629.5 493h0M1629.5 494h0M1629.5 494.5h0M1629.5 495h0M1629.5 495.5h0M1629.5 496h0M1629.5 496.5h0M1629.5 497h0M1629.5 497.5h0M1630 492h0M1630 493.5h0M1630 494h0M1630 494.5h0M1630 495h0M1630 495.5h0M1630.5 491.5h0M1630.5 492.5h0M1630.5 493.5h0M1630.5 494h0M1630.5 494.5h0M1630.5 495h0M1630.5 495.5h0M1630.5 496h0M1631 491.5h0M1631 492h0M1631 492.5h0M1631 493h0M1631 493.5h0M1631 494.5h0M1631 495h0M1631 495.5h0M1631.5 489h0M1631.5 490.5h0M1631.5 491h0M1631.5 491.5h0M1631.5 492h0M1631.5 492.5h0M1631.5 495h0M1632 489h0M1632 489.5h0M1632 491h0M1632 491.5h0M1632 492.5h0M1632 493h0M1632 493.5h0M1632 495.5h0M1632 496h0M1632.5 489.5h0M1632.5 490.5h0M1632.5 491h0M1632.5 491.5h0M1632.5 492h0M1632.5 492.5h0M1632.5 493.5h0M1632.5 494h0M1633 489h0M1633 490h0M1633 491h0M1633 491.5h0M1633 492h0M1633 492.5h0M1633 493h0M1633 493.5h0M1633 494h0M1633 495h0M1633.5 489h0M1633.5 490h0M1633.5 491h0M1633.5 492.5h0M1633.5 493.5h0M1633.5 496.5h0M1634 487.5h0M1634 488.5h0M1634 489h0M1634 490h0M1634 490.5h0M1634 491h0M1634 493h0M1634 493.5h0M1634.5 488.5h0M1634.5 490h0M1634.5 490.5h0M1634.5 492h0M1635 487h0M1635 487.5h0M1635 488h0M1635 488.5h0M1635 489h0M1635 489.5h0M1635 490h0M1635 490.5h0M1635.5 488.5h0M1635.5 490h0M1635.5 490.5h0M1636 485h0M1636 487.5h0M1636 488h0M1636 488.5h0M1636 489h0M1636.5 485h0M1636.5 486h0M1636.5 486.5h0M1636.5 487.5h0M1636.5 489h0M1636.5 489.5h0M1637 487h0M1637 487.5h0M1637 488h0M1637.5 485h0M1637.5 485.5h0M1637.5 486h0M1637.5 486.5h0M1637.5 488h0M1637.5 488.5h0M1637.5 489h0M1638 484.5h0M1638 485.5h0M1638 486h0M1638 486.5h0M1638 487.5h0M1638 488.5h0M1638.5 485.5h0M1638.5 487.5h0M1638.5 488h0M1639 483.5h0M1639 484.5h0M1639 485h0M1639 485.5h0M1639 486h0M1639 486.5h0M1639 487h0M1639.5 485h0M1639.5 485.5h0M1639.5 486.5h0M1639.5 487h0M1639.5 487.5h0M1640 482.5h0M1640 485h0M1640 485.5h0M1640.5 480h0M1640.5 482.5h0M1640.5 483.5h0M1640.5 484h0M1640.5 484.5h0M1640.5 485h0M1640.5 485.5h0M1640.5 486h0M1641 481.5h0M1641 482.5h0M1641 483.5h0M1641 486.5h0M1641.5 481.5h0M1641.5 483h0M1641.5 483.5h0M1641.5 484h0M1642 481h0M1642 482h0M1642 483h0M1642 483.5h0M1642 484h0M1642 484.5h0M1642.5 480h0M1642.5 482.5h0M1642.5 483.5h0M1643 479.5h0M1643 482.5h0M1643 483h0M1643.5 479.5h0M1643.5 481.5h0M1643.5 482h0M1643.5 482.5h0M1644.5 478.5h0M1644.5 479h0M1644.5 480.5h0M1644.5 482.5h0M1645 476h0M1645 477.5h0M1645 479h0M1645 480h0M1645 480.5h0M1645 481h0M1645 482h0M1645 482.5h0M1645.5 475h0M1645.5 478h0M1645.5 479.5h0M1646 477h0M1646 478h0M1646 478.5h0M1646 480h0M1646 480.5h0M1646.5 477h0M1646.5 478h0M1646.5 479.5h0M1646.5 480h0M1647 477h0M1647 478.5h0M1647 479h0M1647 482h0M1647.5 474h0M1647.5 474.5h0M1647.5 475.5h0M1647.5 477.5h0M1647.5 478.5h0M1648 474h0M1648 476h0M1648 476.5h0M1648 477h0M1648.5 473h0M1648.5 474h0M1648.5 474.5h0M1648.5 475h0M1648.5 476h0M1648.5 476.5h0M1648.5 477.5h0M1648.5 478h0M1649 474h0M1649 475.5h0M1649 476.5h0M1649.5 473h0M1649.5 473.5h0M1649.5 475h0M1649.5 477.5h0M1650 474.5h0M1650 475.5h0M1650 476h0M1650 477.5h0M1650.5 471h0M1650.5 473.5h0M1651 472h0M1651 473h0M1651 474h0M1651 475.5h0M1651.5 473h0M1651.5 473.5h0M1652 472.5h0M1652 473.5h0M1652.5 472.5h0M1652.5 473h0M1652.5 474h0M1652.5 474.5h0M1653 470h0M1653 472.5h0M1653.5 470h0M1653.5 470.5h0M1653.5 471.5h0M1654 469.5h0M1654 470h0M1654 470.5h0M1654.5 470h0M1655 469h0M1655 469.5h0M1655 471.5h0M1655.5 469h0M1655.5 470h0M1656 466h0M1656 467.5h0M1656 469h0M1656 471h0M1656.5 466h0M1656.5 467.5h0M1658 466h0M1658.5 465h0M1658.5 467.5h0M1659 463h0M1659 465h0M1659.5 463.5h0M1660.5 461.5h0M1660.5 462h0M1660.5 462.5h0M1660.5 463h0M1660.5 464h0M1661 462.5h0M1661.5 461h0M1661.5 465h0M1662 461h0M1662 462h0M1662 462.5h0M1662 463h0M1662.5 459.5h0M1662.5 464h0M1663 463h0M1663.5 461h0M1663.5 461.5h0M1663.5 462h0M1664 461h0M1665 460h0M1665.5 459.5h0M1666 456.5h0M1666 458.5h0M1666.5 456.5h0M1666.5 458h0M1667 457h0M1667.5 455h0M1667.5 456.5h0M1667.5 457h0M1667.5 458.5h0M1668 455.5h0M1668 459h0M1668.5 455.5h0M1668.5 457h0M1669 455.5h0M1669 456h0M1670.5 452.5h0M1671 452.5h0M1671 454.5h0M1672 452.5h0M1672.5 452h0M1673 455h0M1673.5 446.5h0M1673.5 450.5h0M1673.5 452.5h0M1674 448h0M1674 450.5h0M1674.5 450.5h0M1675 452h0M1678.5 444.5h0M1679.5 441h0M1680 445.5h0M1680 446h0M1680.5 444.5h0M1681 443.5h0M1682.5 442.5h0M1683 442.5h0M1684 441.5h0M1684.5 437h0M1685.5 437.5h0M1685.5 438.5h0M1686 434.5h0M1686 439h0M1687 437.5h0M1687.5 436.5h0M1689 435h0M1690 435.5h0M1692 432h0M1692.5 434.5h0M1694 430.5h0M1694 431.5h0M1695 431h0M1697.5 425h0M1698 426.5h0M1698.5 425.5h0M1702.5 419.5h0M1705.5 417.5h0M1710.5 414h0M1710.5 415h0M1711.5 411.5h0M1711.5 413h0M1712.5 413.5h0M1713 411.5h0M1725 400.5h0M1730 393h0M1732.5 393h0M1745 379h0M1752.5 371h0M1758 369h0M1861.5 263h0"/>
</g>
<g><text class="tk" text-anchor="middle" transform="translate(1281.19 962.05) scale(1 1.045)">-20</text><text class="tk" text-anchor="middle" transform="translate(1442.48 962.05) scale(1 1.045)">-10</text><text class="tk" text-anchor="middle" transform="translate(1603.53 962.05) scale(1 1.045)">0</text><text class="tk" text-anchor="middle" transform="translate(1764.82 962.05) scale(1 1.045)">10</text><text class="tk" text-anchor="middle" transform="translate(1926.11 962.05) scale(1 1.045)">20</text><text class="tk" text-anchor="end" transform="translate(1189.45 853.91) scale(1 1.045)">-20</text><text class="tk" text-anchor="end" transform="translate(1189.45 692.62) scale(1 1.045)">-10</text><text class="tk" text-anchor="end" transform="translate(1189.45 531.33) scale(1 1.045)">0</text><text class="tk" text-anchor="end" transform="translate(1189.45 370.03) scale(1 1.045)">10</text><text class="tk" text-anchor="end" transform="translate(1189.45 208.74) scale(1 1.045)">20</text></g>
<text class="pl" x="1233.65" y="179.45">(b)</text>
<text class="t" text-anchor="middle" transform="translate(1094.95 519.85) rotate(-90)">prediction</text>
<text class="t" text-anchor="middle" x="1604.2" y="1026.8">true</text>
</g>
<g>
<path class="ax" d="M145 1942.7v-22.35M145 1133.75v22.35M306.29 1942.7v-22.35M306.29 1133.75v22.35M467.58 1942.7v-22.35M467.58 1133.75v22.35M628.87 1942.7v-22.35M628.87 1133.75v22.35M790.16 1942.7v-22.35M790.16 1133.75v22.35M951.45 1942.7v-22.35M951.45 1133.75v22.35M143.75 1941.45h22.35M952.7 1941.45h-22.35M143.75 1739.84h22.35M952.7 1739.84h-22.35M143.75 1538.22h22.35M952.7 1538.22h-22.35M143.75 1336.61h22.35M952.7 1336.61h-22.35M143.75 1135h22.35M952.7 1135h-22.35"/>
<rect class="ax" x="145" y="1135" width="806.45" height="806.45"/>
<path class="rf" d="M145 1941.5L301.5 1941.5L303.1 1937.4L304.7 1941.5L307.9 1941.5L309.5 1929.4L311.1 1909.2L312.7 1885L314.4 1852.7L316 1828.5L317.6 1808.4L319.2 1776.1L320.8 1723.7L322.4 1715.6L324 1691.5L325.6 1655.2L327.3 1626.9L328.9 1590.6L330.5 1550.3L332.1 1514L333.7 1489.8L335.3 1437.4L336.9 1413.2L338.5 1401.1L340.2 1385L341.8 1332.6L343.4 1417.3L345 1429.4L346.6 1526.1L348.2 1364.8L349.8 1413.2L351.5 1453.5L353.1 1421.3L354.7 1413.2L356.3 1381L357.9 1453.5L359.5 1558.4L361.1 1441.5L362.7 1514L364.4 1534.2L366 1506L367.6 1582.6L369.2 1602.7L370.8 1550.3L372.4 1631L374 1663.2L375.6 1711.6L377.3 1719.7L378.9 1699.5L380.5 1659.2L382.1 1731.8L383.7 1780.2L385.3 1784.2L386.9 1764L388.5 1731.8L390.2 1792.3L391.8 1739.8L393.4 1828.5L395 1800.3L396.6 1784.2L398.2 1808.4L399.8 1864.8L401.5 1840.6L403.1 1876.9L404.7 1885L406.3 1872.9L407.9 1856.8L409.5 1885L411.1 1868.9L412.7 1848.7L414.4 1889L416 1901.1L417.6 1889L419.2 1889L420.8 1881L422.4 1909.2L424 1921.3L425.6 1925.3L427.3 1913.2L428.9 1909.2L430.5 1905.2L432.1 1901.1L433.7 1937.4L435.3 1925.3L436.9 1917.3L438.5 1917.3L440.2 1933.4L441.8 1925.3L443.4 1917.3L445 1921.3L446.6 1929.4L448.2 1937.4L449.8 1941.5L451.5 1933.4L453.1 1929.4L454.7 1929.4L456.3 1933.4L457.9 1933.4L459.5 1929.4L461.1 1929.4L462.7 1925.3L464.4 1921.3L466 1929.4L467.6 1933.4L469.2 1941.5L470.8 1937.4L472.4 1933.4L474 1937.4L475.6 1941.5L477.3 1933.4L478.9 1933.4L480.5 1937.4L482.1 1941.5L491.8 1941.5L493.4 1937.4L495 1941.5L501.5 1941.5L503.1 1937.4L504.7 1941.5L506.3 1937.4L507.9 1933.4L509.5 1941.5L512.7 1941.5L514.4 1937.4L516 1941.5L517.6 1941.5L519.2 1937.4L520.8 1941.5L522.4 1941.5L524 1933.4L525.6 1941.5L530.5 1941.5L532.1 1937.4L533.7 1941.5L535.3 1941.5L536.9 1937.4L538.5 1941.5L540.2 1937.4L541.8 1941.5L545 1941.5L546.6 1937.4L548.2 1941.5L549.8 1941.5L551.5 1933.4L553.1 1937.4L554.7 1941.5L556.3 1941.5L557.9 1937.4L559.5 1941.5L561.1 1941.5L562.7 1937.4L564.4 1941.5L566 1941.5L567.6 1937.4L569.2 1941.5L570.8 1941.5L572.4 1937.4L574 1941.5L575.6 1941.5L577.3 1937.4L578.9 1941.5L580.5 1937.4L582.1 1941.5L583.7 1941.5L585.3 1937.4L586.9 1941.5L588.5 1941.5L590.2 1937.4L591.8 1941.5L595 1941.5L596.6 1937.4L598.2 1941.5L604.7 1941.5L606.3 1937.4L607.9 1933.4L609.5 1937.4L611.1 1941.5L614.4 1941.5L616 1937.4L617.6 1941.5L619.2 1937.4L620.8 1941.5L622.4 1937.4L624 1941.5L625.6 1941.5L627.3 1937.4L628.9 1941.5L630.5 1937.4L632.1 1941.5L633.7 1937.4L635.3 1941.5L636.9 1937.4L638.5 1941.5L643.4 1941.5L645 1937.4L646.6 1941.5L648.2 1941.5L649.8 1937.4L651.5 1941.5L653.1 1937.4L654.7 1941.5L659.5 1941.5L661.1 1937.4L662.7 1941.5L664.4 1937.4L666 1941.5L675.6 1941.5L677.3 1937.4L678.9 1941.5L680.5 1941.5L682.1 1937.4L683.7 1941.5L685.3 1941.5L686.9 1937.4L688.5 1941.5L693.4 1941.5L695 1937.4L696.6 1941.5L698.2 1933.4L699.8 1937.4L701.5 1941.5L732.1 1941.5L733.7 1933.4L735.3 1941.5L751.5 1941.5L753.1 1937.4L754.7 1941.5L764.4 1941.5L766 1937.4L767.6 1941.5L782.1 1941.5L783.7 1937.4L785.3 1941.5L791.8 1941.5L793.4 1937.4L795 1941.5L857.9 1941.5L859.5 1937.4L861.1 1941.5L883.7 1941.5L885.3 1937.4L886.9 1941.5L951.5 1941.5Z"/>
<path class="rl" d="M145 1941.5L301.5 1941.5L303.1 1937.4L304.7 1941.5L307.9 1941.5L309.5 1929.4L311.1 1909.2L312.7 1885L314.4 1852.7L316 1828.5L317.6 1808.4L319.2 1776.1L320.8 1723.7L322.4 1715.6L324 1691.5L325.6 1655.2L327.3 1626.9L328.9 1590.6L330.5 1550.3L332.1 1514L333.7 1489.8L335.3 1437.4L336.9 1413.2L338.5 1401.1L340.2 1385L341.8 1332.6L343.4 1417.3L345 1429.4L346.6 1526.1L348.2 1364.8L349.8 1413.2L351.5 1453.5L353.1 1421.3L354.7 1413.2L356.3 1381L357.9 1453.5L359.5 1558.4L361.1 1441.5L362.7 1514L364.4 1534.2L366 1506L367.6 1582.6L369.2 1602.7L370.8 1550.3L372.4 1631L374 1663.2L375.6 1711.6L377.3 1719.7L378.9 1699.5L380.5 1659.2L382.1 1731.8L383.7 1780.2L385.3 1784.2L386.9 1764L388.5 1731.8L390.2 1792.3L391.8 1739.8L393.4 1828.5L395 1800.3L396.6 1784.2L398.2 1808.4L399.8 1864.8L401.5 1840.6L403.1 1876.9L404.7 1885L406.3 1872.9L407.9 1856.8L409.5 1885L411.1 1868.9L412.7 1848.7L414.4 1889L416 1901.1L417.6 1889L419.2 1889L420.8 1881L422.4 1909.2L424 1921.3L425.6 1925.3L427.3 1913.2L428.9 1909.2L430.5 1905.2L432.1 1901.1L433.7 1937.4L435.3 1925.3L436.9 1917.3L438.5 1917.3L440.2 1933.4L441.8 1925.3L443.4 1917.3L445 1921.3L446.6 1929.4L448.2 1937.4L449.8 1941.5L451.5 1933.4L453.1 1929.4L454.7 1929.4L456.3 1933.4L457.9 1933.4L459.5 1929.4L461.1 1929.4L462.7 1925.3L464.4 1921.3L466 1929.4L467.6 1933.4L469.2 1941.5L470.8 1937.4L472.4 1933.4L474 1937.4L475.6 1941.5L477.3 1933.4L478.9 1933.4L480.5 1937.4L482.1 1941.5L491.8 1941.5L493.4 1937.4L495 1941.5L501.5 1941.5L503.1 1937.4L504.7 1941.5L506.3 1937.4L507.9 1933.4L509.5 1941.5L512.7 1941.5L514.4 1937.4L516 1941.5L517.6 1941.5L519.2 1937.4L520.8 1941.5L522.4 1941.5L524 1933.4L525.6 1941.5L530.5 1941.5L532.1 1937.4L533.7 1941.5L535.3 1941.5L536.9 1937.4L538.5 1941.5L540.2 1937.4L541.8 1941.5L545 1941.5L546.6 1937.4L548.2 1941.5L549.8 1941.5L551.5 1933.4L553.1 1937.4L554.7 1941.5L556.3 1941.5L557.9 1937.4L559.5 1941.5L561.1 1941.5L562.7 1937.4L564.4 1941.5L566 1941.5L567.6 1937.4L569.2 1941.5L570.8 1941.5L572.4 1937.4L574 1941.5L575.6 1941.5L577.3 1937.4L578.9 1941.5L580.5 1937.4L582.1 1941.5L583.7 1941.5L585.3 1937.4L586.9 1941.5L588.5 1941.5L590.2 1937.4L591.8 1941.5L595 1941.5L596.6 1937.4L598.2 1941.5L604.7 1941.5L606.3 1937.4L607.9 1933.4L609.5 1937.4L611.1 1941.5L614.4 1941.5L616 1937.4L617.6 1941.5L619.2 1937.4L620.8 1941.5L622.4 1937.4L624 1941.5L625.6 1941.5L627.3 1937.4L628.9 1941.5L630.5 1937.4L632.1 1941.5L633.7 1937.4L635.3 1941.5L636.9 1937.4L638.5 1941.5L643.4 1941.5L645 1937.4L646.6 1941.5L648.2 1941.5L649.8 1937.4L651.5 1941.5L653.1 1937.4L654.7 1941.5L659.5 1941.5L661.1 1937.4L662.7 1941.5L664.4 1937.4L666 1941.5L675.6 1941.5L677.3 1937.4L678.9 1941.5L680.5 1941.5L682.1 1937.4L683.7 1941.5L685.3 1941.5L686.9 1937.4L688.5 1941.5L693.4 1941.5L695 1937.4L696.6 1941.5L698.2 1933.4L699.8 1937.4L701.5 1941.5L732.1 1941.5L733.7 1933.4L735.3 1941.5L751.5 1941.5L753.1 1937.4L754.7 1941.5L764.4 1941.5L766 1937.4L767.6 1941.5L782.1 1941.5L783.7 1937.4L785.3 1941.5L791.8 1941.5L793.4 1937.4L795 1941.5L857.9 1941.5L859.5 1937.4L861.1 1941.5L883.7 1941.5L885.3 1937.4L886.9 1941.5L951.5 1941.5"/>
<path class="bf" d="M145 1941.5L296.6 1941.5L298.2 1937.4L299.8 1941.5L306.3 1941.5L307.9 1937.4L309.5 1929.4L311.1 1909.2L312.7 1881L314.4 1852.7L316 1816.5L317.6 1808.4L319.2 1768.1L320.8 1751.9L322.4 1719.7L324 1687.4L325.6 1651.1L327.3 1618.9L328.9 1578.5L330.5 1546.3L332.1 1465.6L333.7 1526.1L335.3 1449.5L336.9 1389L338.5 1393.1L340.2 1376.9L341.8 1364.8L343.4 1425.3L345 1441.5L346.6 1453.5L348.2 1409.2L349.8 1389L351.5 1473.7L353.1 1405.2L354.7 1437.4L356.3 1417.3L357.9 1489.8L359.5 1457.6L361.1 1445.5L362.7 1550.3L364.4 1522.1L366 1510L367.6 1570.5L369.2 1626.9L370.8 1506L372.4 1639L374 1659.2L375.6 1699.5L377.3 1703.5L378.9 1683.4L380.5 1671.3L382.1 1739.8L383.7 1780.2L385.3 1792.3L386.9 1747.9L388.5 1703.5L390.2 1796.3L391.8 1764L393.4 1828.5L395 1808.4L396.6 1796.3L398.2 1788.2L399.8 1868.9L401.5 1844.7L403.1 1868.9L404.7 1885L406.3 1868.9L407.9 1856.8L409.5 1872.9L411.1 1864.8L412.7 1856.8L414.4 1893.1L416 1921.3L417.6 1893.1L419.2 1872.9L420.8 1893.1L422.4 1913.2L424 1917.3L425.6 1925.3L427.3 1909.2L428.9 1901.1L430.5 1905.2L432.1 1913.2L433.7 1933.4L435.3 1929.4L436.9 1921.3L438.5 1921.3L440.2 1933.4L441.8 1925.3L443.4 1917.3L445 1917.3L446.6 1929.4L448.2 1937.4L449.8 1941.5L451.5 1933.4L453.1 1929.4L454.7 1929.4L456.3 1933.4L457.9 1929.4L459.5 1925.3L461.1 1929.4L462.7 1925.3L464.4 1925.3L466 1929.4L467.6 1937.4L469.2 1941.5L470.8 1937.4L472.4 1933.4L474 1937.4L475.6 1941.5L477.3 1933.4L478.9 1929.4L480.5 1937.4L482.1 1941.5L491.8 1941.5L493.4 1937.4L495 1941.5L501.5 1941.5L503.1 1937.4L504.7 1941.5L506.3 1933.4L507.9 1937.4L509.5 1941.5L512.7 1941.5L514.4 1937.4L516 1941.5L517.6 1941.5L519.2 1937.4L520.8 1941.5L522.4 1937.4L524 1937.4L525.6 1941.5L530.5 1941.5L532.1 1937.4L533.7 1941.5L535.3 1941.5L536.9 1937.4L538.5 1941.5L540.2 1937.4L541.8 1941.5L545 1941.5L546.6 1937.4L548.2 1941.5L549.8 1937.4L553.1 1937.4L554.7 1941.5L556.3 1941.5L557.9 1937.4L559.5 1941.5L561.1 1941.5L562.7 1937.4L564.4 1941.5L566 1941.5L567.6 1937.4L569.2 1941.5L570.8 1941.5L572.4 1937.4L574 1941.5L575.6 1941.5L577.3 1937.4L578.9 1941.5L580.5 1937.4L582.1 1941.5L583.7 1941.5L585.3 1937.4L586.9 1941.5L588.5 1941.5L590.2 1937.4L591.8 1941.5L595 1941.5L596.6 1937.4L598.2 1941.5L604.7 1941.5L606.3 1933.4L607.9 1937.4L609.5 1937.4L611.1 1941.5L614.4 1941.5L616 1937.4L617.6 1941.5L619.2 1937.4L620.8 1941.5L622.4 1937.4L624 1941.5L625.6 1941.5L627.3 1937.4L628.9 1941.5L630.5 1937.4L632.1 1941.5L633.7 1937.4L635.3 1941.5L636.9 1937.4L638.5 1941.5L643.4 1941.5L645 1937.4L646.6 1941.5L648.2 1941.5L649.8 1937.4L651.5 1941.5L653.1 1937.4L654.7 1941.5L659.5 1941.5L661.1 1937.4L662.7 1941.5L664.4 1937.4L666 1941.5L675.6 1941.5L677.3 1937.4L678.9 1941.5L680.5 1941.5L682.1 1937.4L683.7 1941.5L685.3 1941.5L686.9 1937.4L688.5 1941.5L693.4 1941.5L695 1937.4L699.8 1937.4L701.5 1941.5L730.5 1941.5L732.1 1937.4L733.7 1937.4L735.3 1941.5L751.5 1941.5L753.1 1937.4L754.7 1941.5L764.4 1941.5L766 1937.4L767.6 1941.5L782.1 1941.5L783.7 1937.4L785.3 1941.5L791.8 1941.5L793.4 1937.4L795 1941.5L857.9 1941.5L859.5 1937.4L861.1 1941.5L882.1 1941.5L883.7 1937.4L885.3 1941.5L951.5 1941.5Z"/>
<path class="bl" d="M145 1941.5L296.6 1941.5L298.2 1937.4L299.8 1941.5L306.3 1941.5L307.9 1937.4L309.5 1929.4L311.1 1909.2L312.7 1881L314.4 1852.7L316 1816.5L317.6 1808.4L319.2 1768.1L320.8 1751.9L322.4 1719.7L324 1687.4L325.6 1651.1L327.3 1618.9L328.9 1578.5L330.5 1546.3L332.1 1465.6L333.7 1526.1L335.3 1449.5L336.9 1389L338.5 1393.1L340.2 1376.9L341.8 1364.8L343.4 1425.3L345 1441.5L346.6 1453.5L348.2 1409.2L349.8 1389L351.5 1473.7L353.1 1405.2L354.7 1437.4L356.3 1417.3L357.9 1489.8L359.5 1457.6L361.1 1445.5L362.7 1550.3L364.4 1522.1L366 1510L367.6 1570.5L369.2 1626.9L370.8 1506L372.4 1639L374 1659.2L375.6 1699.5L377.3 1703.5L378.9 1683.4L380.5 1671.3L382.1 1739.8L383.7 1780.2L385.3 1792.3L386.9 1747.9L388.5 1703.5L390.2 1796.3L391.8 1764L393.4 1828.5L395 1808.4L396.6 1796.3L398.2 1788.2L399.8 1868.9L401.5 1844.7L403.1 1868.9L404.7 1885L406.3 1868.9L407.9 1856.8L409.5 1872.9L411.1 1864.8L412.7 1856.8L414.4 1893.1L416 1921.3L417.6 1893.1L419.2 1872.9L420.8 1893.1L422.4 1913.2L424 1917.3L425.6 1925.3L427.3 1909.2L428.9 1901.1L430.5 1905.2L432.1 1913.2L433.7 1933.4L435.3 1929.4L436.9 1921.3L438.5 1921.3L440.2 1933.4L441.8 1925.3L443.4 1917.3L445 1917.3L446.6 1929.4L448.2 1937.4L449.8 1941.5L451.5 1933.4L453.1 1929.4L454.7 1929.4L456.3 1933.4L457.9 1929.4L459.5 1925.3L461.1 1929.4L462.7 1925.3L464.4 1925.3L466 1929.4L467.6 1937.4L469.2 1941.5L470.8 1937.4L472.4 1933.4L474 1937.4L475.6 1941.5L477.3 1933.4L478.9 1929.4L480.5 1937.4L482.1 1941.5L491.8 1941.5L493.4 1937.4L495 1941.5L501.5 1941.5L503.1 1937.4L504.7 1941.5L506.3 1933.4L507.9 1937.4L509.5 1941.5L512.7 1941.5L514.4 1937.4L516 1941.5L517.6 1941.5L519.2 1937.4L520.8 1941.5L522.4 1937.4L524 1937.4L525.6 1941.5L530.5 1941.5L532.1 1937.4L533.7 1941.5L535.3 1941.5L536.9 1937.4L538.5 1941.5L540.2 1937.4L541.8 1941.5L545 1941.5L546.6 1937.4L548.2 1941.5L549.8 1937.4L553.1 1937.4L554.7 1941.5L556.3 1941.5L557.9 1937.4L559.5 1941.5L561.1 1941.5L562.7 1937.4L564.4 1941.5L566 1941.5L567.6 1937.4L569.2 1941.5L570.8 1941.5L572.4 1937.4L574 1941.5L575.6 1941.5L577.3 1937.4L578.9 1941.5L580.5 1937.4L582.1 1941.5L583.7 1941.5L585.3 1937.4L586.9 1941.5L588.5 1941.5L590.2 1937.4L591.8 1941.5L595 1941.5L596.6 1937.4L598.2 1941.5L604.7 1941.5L606.3 1933.4L607.9 1937.4L609.5 1937.4L611.1 1941.5L614.4 1941.5L616 1937.4L617.6 1941.5L619.2 1937.4L620.8 1941.5L622.4 1937.4L624 1941.5L625.6 1941.5L627.3 1937.4L628.9 1941.5L630.5 1937.4L632.1 1941.5L633.7 1937.4L635.3 1941.5L636.9 1937.4L638.5 1941.5L643.4 1941.5L645 1937.4L646.6 1941.5L648.2 1941.5L649.8 1937.4L651.5 1941.5L653.1 1937.4L654.7 1941.5L659.5 1941.5L661.1 1937.4L662.7 1941.5L664.4 1937.4L666 1941.5L675.6 1941.5L677.3 1937.4L678.9 1941.5L680.5 1941.5L682.1 1937.4L683.7 1941.5L685.3 1941.5L686.9 1937.4L688.5 1941.5L693.4 1941.5L695 1937.4L699.8 1937.4L701.5 1941.5L730.5 1941.5L732.1 1937.4L733.7 1937.4L735.3 1941.5L751.5 1941.5L753.1 1937.4L754.7 1941.5L764.4 1941.5L766 1937.4L767.6 1941.5L782.1 1941.5L783.7 1937.4L785.3 1941.5L791.8 1941.5L793.4 1937.4L795 1941.5L857.9 1941.5L859.5 1937.4L861.1 1941.5L882.1 1941.5L883.7 1937.4L885.3 1941.5L951.5 1941.5"/>
<g><text class="tk" text-anchor="middle" transform="translate(145.25 1979.3) scale(1 1.045)">-10</text><text class="tk" text-anchor="middle" transform="translate(306.29 1979.3) scale(1 1.045)">0</text><text class="tk" text-anchor="middle" transform="translate(467.58 1979.3) scale(1 1.045)">10</text><text class="tk" text-anchor="middle" transform="translate(628.87 1979.3) scale(1 1.045)">20</text><text class="tk" text-anchor="middle" transform="translate(790.16 1979.3) scale(1 1.045)">30</text><text class="tk" text-anchor="middle" transform="translate(951.45 1979.3) scale(1 1.045)">40</text><text class="tk" text-anchor="end" transform="translate(134.15 1951.8) scale(1 1.045)">0</text><text class="tk" text-anchor="end" transform="translate(134.15 1750.19) scale(1 1.045)">50</text><text class="tk" text-anchor="end" transform="translate(134.15 1548.57) scale(1 1.045)">100</text><text class="tk" text-anchor="end" transform="translate(134.15 1346.96) scale(1 1.045)">150</text><text class="tk" text-anchor="end" transform="translate(134.15 1145.35) scale(1 1.045)">200</text></g>
<text class="pl" x="178.1" y="1196.7">(c)</text>
<text class="t" text-anchor="middle" transform="translate(42.8 1505.35) rotate(-90)">number of cylinders</text>
<rect class="rb" x="663.1" y="1194.15" width="33.4" height="33.4"/>
<rect class="bb" x="663.1" y="1260.9" width="33.4" height="33.4"/>
<text class="lg" x="717" y="1224.25">true</text>
<text class="lg" x="717.8" y="1285.85">prediction</text>
<text class="t i" transform="translate(518.2 2051.9) scale(1 1.04)">F</text><text class="s" x="547.25" y="2063.9">x</text><text class="s" transform="translate(550.45 2030.95) scale(1 1.04)">H</text>
</g>
<g>
<path class="ax" d="M1280.94 1942.7v-22.35M1280.94 1133.75v22.35M1442.23 1942.7v-22.35M1442.23 1133.75v22.35M1603.53 1942.7v-22.35M1603.53 1133.75v22.35M1764.82 1942.7v-22.35M1764.82 1133.75v22.35M1926.11 1942.7v-22.35M1926.11 1133.75v22.35M1199.05 1941.45h22.35M2008 1941.45h-22.35M1199.05 1780.16h22.35M2008 1780.16h-22.35M1199.05 1618.87h22.35M2008 1618.87h-22.35M1199.05 1457.58h22.35M2008 1457.58h-22.35M1199.05 1296.29h22.35M2008 1296.29h-22.35M1199.05 1135h22.35M2008 1135h-22.35"/>
<rect class="ax" x="1200.3" y="1135" width="806.45" height="806.45"/>
<path class="rf" d="M1200.3 1941.5L1334.2 1941.5L1335.8 1938.2L1337.4 1941.5L1368 1941.5L1369.7 1938.2L1371.3 1941.5L1434.2 1941.5L1435.8 1938.2L1437.4 1941.5L1442.2 1941.5L1443.8 1938.2L1445.5 1941.5L1448.7 1941.5L1450.3 1938.2L1451.9 1941.5L1453.5 1941.5L1455.1 1938.2L1456.8 1941.5L1487.4 1941.5L1489 1938.2L1492.2 1938.2L1493.8 1941.5L1495.5 1938.2L1497.1 1941.5L1498.7 1938.2L1506.8 1938.2L1508.4 1941.5L1510 1938.2L1511.6 1931.8L1513.2 1931.8L1514.8 1935L1516.4 1938.2L1518 1922.1L1519.7 1928.5L1521.3 1928.5L1522.9 1935L1524.5 1941.5L1526.1 1938.2L1527.7 1931.8L1529.3 1931.8L1530.9 1935L1532.6 1922.1L1534.2 1915.6L1535.8 1922.1L1537.4 1925.3L1539 1922.1L1540.6 1928.5L1542.2 1925.3L1543.8 1922.1L1545.5 1909.2L1547.1 1912.4L1548.7 1906L1550.3 1915.6L1551.9 1931.8L1553.5 1915.6L1555.1 1889.8L1556.8 1902.7L1558.4 1899.5L1560 1896.3L1561.6 1880.2L1563.2 1870.5L1564.8 1847.9L1566.4 1857.6L1568 1838.2L1569.7 1818.9L1571.3 1809.2L1572.9 1812.4L1574.5 1835L1576.1 1796.3L1577.7 1780.2L1579.3 1741.5L1580.9 1735L1582.6 1702.7L1584.2 1706L1585.8 1641.5L1587.4 1583.4L1589 1606L1590.6 1535L1592.2 1464L1593.8 1496.3L1595.5 1438.2L1597.1 1483.4L1598.7 1393.1L1600.3 1273.7L1601.9 1251.1L1603.5 1257.6L1605.1 1302.7L1606.8 1360.8L1608.4 1486.6L1610 1473.7L1611.6 1441.5L1613.2 1557.6L1614.8 1635L1616.4 1560.8L1618 1635L1619.7 1712.4L1621.3 1760.8L1622.9 1773.7L1624.5 1770.5L1626.1 1764L1627.7 1764L1629.3 1754.4L1630.9 1812.4L1632.6 1799.5L1634.2 1844.7L1635.8 1864L1637.4 1873.7L1639 1864L1640.6 1880.2L1642.2 1889.8L1643.8 1906L1645.5 1870.5L1647.1 1880.2L1648.7 1880.2L1650.3 1893.1L1651.9 1909.2L1653.5 1906L1655.1 1912.4L1656.8 1931.8L1658.4 1925.3L1660 1918.9L1661.6 1909.2L1663.2 1925.3L1664.8 1931.8L1666.4 1912.4L1668 1915.6L1669.7 1931.8L1671.3 1931.8L1672.9 1925.3L1674.5 1922.1L1676.1 1941.5L1677.7 1938.2L1679.3 1935L1680.9 1931.8L1682.6 1935L1684.2 1935L1685.8 1928.5L1687.4 1935L1689 1938.2L1690.6 1938.2L1692.2 1935L1693.8 1935L1695.5 1938.2L1697.1 1935L1698.7 1938.2L1700.3 1941.5L1701.9 1938.2L1703.5 1941.5L1705.1 1938.2L1706.8 1941.5L1708.4 1941.5L1710 1935L1713.2 1935L1714.8 1941.5L1722.9 1941.5L1724.5 1938.2L1726.1 1941.5L1727.7 1941.5L1729.3 1938.2L1730.9 1941.5L1732.6 1938.2L1734.2 1941.5L1743.8 1941.5L1745.5 1938.2L1747.1 1941.5L1750.3 1941.5L1751.9 1938.2L1753.5 1941.5L1756.8 1941.5L1758.4 1938.2L1760 1941.5L1860 1941.5L1861.6 1938.2L1863.2 1941.5L2006.8 1941.5Z"/>
<path class="rl" d="M1200.3 1941.5L1334.2 1941.5L1335.8 1938.2L1337.4 1941.5L1368 1941.5L1369.7 1938.2L1371.3 1941.5L1434.2 1941.5L1435.8 1938.2L1437.4 1941.5L1442.2 1941.5L1443.8 1938.2L1445.5 1941.5L1448.7 1941.5L1450.3 1938.2L1451.9 1941.5L1453.5 1941.5L1455.1 1938.2L1456.8 1941.5L1487.4 1941.5L1489 1938.2L1492.2 1938.2L1493.8 1941.5L1495.5 1938.2L1497.1 1941.5L1498.7 1938.2L1506.8 1938.2L1508.4 1941.5L1510 1938.2L1511.6 1931.8L1513.2 1931.8L1514.8 1935L1516.4 1938.2L1518 1922.1L1519.7 1928.5L1521.3 1928.5L1522.9 1935L1524.5 1941.5L1526.1 1938.2L1527.7 1931.8L1529.3 1931.8L1530.9 1935L1532.6 1922.1L1534.2 1915.6L1535.8 1922.1L1537.4 1925.3L1539 1922.1L1540.6 1928.5L1542.2 1925.3L1543.8 1922.1L1545.5 1909.2L1547.1 1912.4L1548.7 1906L1550.3 1915.6L1551.9 1931.8L1553.5 1915.6L1555.1 1889.8L1556.8 1902.7L1558.4 1899.5L1560 1896.3L1561.6 1880.2L1563.2 1870.5L1564.8 1847.9L1566.4 1857.6L1568 1838.2L1569.7 1818.9L1571.3 1809.2L1572.9 1812.4L1574.5 1835L1576.1 1796.3L1577.7 1780.2L1579.3 1741.5L1580.9 1735L1582.6 1702.7L1584.2 1706L1585.8 1641.5L1587.4 1583.4L1589 1606L1590.6 1535L1592.2 1464L1593.8 1496.3L1595.5 1438.2L1597.1 1483.4L1598.7 1393.1L1600.3 1273.7L1601.9 1251.1L1603.5 1257.6L1605.1 1302.7L1606.8 1360.8L1608.4 1486.6L1610 1473.7L1611.6 1441.5L1613.2 1557.6L1614.8 1635L1616.4 1560.8L1618 1635L1619.7 1712.4L1621.3 1760.8L1622.9 1773.7L1624.5 1770.5L1626.1 1764L1627.7 1764L1629.3 1754.4L1630.9 1812.4L1632.6 1799.5L1634.2 1844.7L1635.8 1864L1637.4 1873.7L1639 1864L1640.6 1880.2L1642.2 1889.8L1643.8 1906L1645.5 1870.5L1647.1 1880.2L1648.7 1880.2L1650.3 1893.1L1651.9 1909.2L1653.5 1906L1655.1 1912.4L1656.8 1931.8L1658.4 1925.3L1660 1918.9L1661.6 1909.2L1663.2 1925.3L1664.8 1931.8L1666.4 1912.4L1668 1915.6L1669.7 1931.8L1671.3 1931.8L1672.9 1925.3L1674.5 1922.1L1676.1 1941.5L1677.7 1938.2L1679.3 1935L1680.9 1931.8L1682.6 1935L1684.2 1935L1685.8 1928.5L1687.4 1935L1689 1938.2L1690.6 1938.2L1692.2 1935L1693.8 1935L1695.5 1938.2L1697.1 1935L1698.7 1938.2L1700.3 1941.5L1701.9 1938.2L1703.5 1941.5L1705.1 1938.2L1706.8 1941.5L1708.4 1941.5L1710 1935L1713.2 1935L1714.8 1941.5L1722.9 1941.5L1724.5 1938.2L1726.1 1941.5L1727.7 1941.5L1729.3 1938.2L1730.9 1941.5L1732.6 1938.2L1734.2 1941.5L1743.8 1941.5L1745.5 1938.2L1747.1 1941.5L1750.3 1941.5L1751.9 1938.2L1753.5 1941.5L1756.8 1941.5L1758.4 1938.2L1760 1941.5L1860 1941.5L1861.6 1938.2L1863.2 1941.5L2006.8 1941.5"/>
<path class="bf" d="M1200.3 1941.5L1335.8 1941.5L1337.4 1938.2L1339 1941.5L1368 1941.5L1369.7 1938.2L1371.3 1941.5L1429.3 1941.5L1430.9 1938.2L1432.6 1941.5L1442.2 1941.5L1443.8 1938.2L1445.5 1941.5L1447.1 1941.5L1448.7 1938.2L1450.3 1941.5L1458.4 1941.5L1460 1938.2L1461.6 1941.5L1484.2 1941.5L1485.8 1938.2L1487.4 1941.5L1489 1941.5L1490.6 1938.2L1492.2 1941.5L1493.8 1941.5L1495.5 1938.2L1506.8 1938.2L1508.4 1941.5L1510 1938.2L1511.6 1931.8L1513.2 1935L1516.4 1935L1518 1931.8L1519.7 1931.8L1521.3 1928.5L1522.9 1935L1524.5 1941.5L1526.1 1938.2L1527.7 1931.8L1529.3 1931.8L1530.9 1935L1532.6 1928.5L1534.2 1922.1L1539 1922.1L1540.6 1925.3L1542.2 1925.3L1543.8 1922.1L1545.5 1922.1L1547.1 1915.6L1548.7 1906L1550.3 1912.4L1551.9 1928.5L1553.5 1915.6L1555.1 1899.5L1556.8 1896.3L1558.4 1902.7L1560 1889.8L1561.6 1880.2L1563.2 1864L1564.8 1847.9L1566.4 1876.9L1568 1825.3L1569.7 1818.9L1571.3 1809.2L1572.9 1818.9L1574.5 1854.4L1576.1 1799.5L1577.7 1773.7L1579.3 1738.2L1580.9 1728.5L1582.6 1715.6L1584.2 1699.5L1585.8 1664L1587.4 1618.9L1589 1641.5L1590.6 1544.7L1592.2 1457.6L1593.8 1496.3L1595.5 1486.6L1597.1 1457.6L1598.7 1406L1600.3 1351.1L1601.9 1296.3L1603.5 1238.2L1605.1 1286.6L1606.8 1341.5L1608.4 1480.2L1610 1464L1611.6 1451.1L1613.2 1544.7L1614.8 1586.6L1616.4 1547.9L1618 1644.7L1619.7 1709.2L1621.3 1754.4L1622.9 1764L1624.5 1773.7L1626.1 1757.6L1627.7 1747.9L1629.3 1822.1L1630.9 1806L1632.6 1796.3L1634.2 1844.7L1635.8 1880.2L1637.4 1873.7L1639 1870.5L1640.6 1876.9L1642.2 1883.4L1643.8 1893.1L1645.5 1876.9L1647.1 1880.2L1648.7 1880.2L1650.3 1889.8L1651.9 1909.2L1653.5 1912.4L1655.1 1915.6L1656.8 1931.8L1658.4 1925.3L1660 1918.9L1661.6 1915.6L1663.2 1925.3L1664.8 1928.5L1666.4 1922.1L1668 1918.9L1669.7 1928.5L1671.3 1931.8L1672.9 1928.5L1674.5 1938.2L1676.1 1941.5L1677.7 1938.2L1679.3 1935L1684.2 1935L1685.8 1931.8L1687.4 1931.8L1689 1938.2L1690.6 1938.2L1692.2 1935L1693.8 1935L1695.5 1938.2L1697.1 1935L1698.7 1938.2L1700.3 1941.5L1701.9 1938.2L1703.5 1941.5L1705.1 1938.2L1706.8 1941.5L1708.4 1941.5L1710 1938.2L1711.6 1935L1713.2 1935L1714.8 1941.5L1722.9 1941.5L1724.5 1938.2L1726.1 1941.5L1727.7 1941.5L1729.3 1938.2L1730.9 1941.5L1732.6 1938.2L1734.2 1941.5L1743.8 1941.5L1745.5 1938.2L1747.1 1941.5L1750.3 1941.5L1751.9 1938.2L1753.5 1941.5L1756.8 1941.5L1758.4 1938.2L1760 1941.5L1860 1941.5L1861.6 1938.2L1863.2 1941.5L2006.8 1941.5Z"/>
<path class="bl" d="M1200.3 1941.5L1335.8 1941.5L1337.4 1938.2L1339 1941.5L1368 1941.5L1369.7 1938.2L1371.3 1941.5L1429.3 1941.5L1430.9 1938.2L1432.6 1941.5L1442.2 1941.5L1443.8 1938.2L1445.5 1941.5L1447.1 1941.5L1448.7 1938.2L1450.3 1941.5L1458.4 1941.5L1460 1938.2L1461.6 1941.5L1484.2 1941.5L1485.8 1938.2L1487.4 1941.5L1489 1941.5L1490.6 1938.2L1492.2 1941.5L1493.8 1941.5L1495.5 1938.2L1506.8 1938.2L1508.4 1941.5L1510 1938.2L1511.6 1931.8L1513.2 1935L1516.4 1935L1518 1931.8L1519.7 1931.8L1521.3 1928.5L1522.9 1935L1524.5 1941.5L1526.1 1938.2L1527.7 1931.8L1529.3 1931.8L1530.9 1935L1532.6 1928.5L1534.2 1922.1L1539 1922.1L1540.6 1925.3L1542.2 1925.3L1543.8 1922.1L1545.5 1922.1L1547.1 1915.6L1548.7 1906L1550.3 1912.4L1551.9 1928.5L1553.5 1915.6L1555.1 1899.5L1556.8 1896.3L1558.4 1902.7L1560 1889.8L1561.6 1880.2L1563.2 1864L1564.8 1847.9L1566.4 1876.9L1568 1825.3L1569.7 1818.9L1571.3 1809.2L1572.9 1818.9L1574.5 1854.4L1576.1 1799.5L1577.7 1773.7L1579.3 1738.2L1580.9 1728.5L1582.6 1715.6L1584.2 1699.5L1585.8 1664L1587.4 1618.9L1589 1641.5L1590.6 1544.7L1592.2 1457.6L1593.8 1496.3L1595.5 1486.6L1597.1 1457.6L1598.7 1406L1600.3 1351.1L1601.9 1296.3L1603.5 1238.2L1605.1 1286.6L1606.8 1341.5L1608.4 1480.2L1610 1464L1611.6 1451.1L1613.2 1544.7L1614.8 1586.6L1616.4 1547.9L1618 1644.7L1619.7 1709.2L1621.3 1754.4L1622.9 1764L1624.5 1773.7L1626.1 1757.6L1627.7 1747.9L1629.3 1822.1L1630.9 1806L1632.6 1796.3L1634.2 1844.7L1635.8 1880.2L1637.4 1873.7L1639 1870.5L1640.6 1876.9L1642.2 1883.4L1643.8 1893.1L1645.5 1876.9L1647.1 1880.2L1648.7 1880.2L1650.3 1889.8L1651.9 1909.2L1653.5 1912.4L1655.1 1915.6L1656.8 1931.8L1658.4 1925.3L1660 1918.9L1661.6 1915.6L1663.2 1925.3L1664.8 1928.5L1666.4 1922.1L1668 1918.9L1669.7 1928.5L1671.3 1931.8L1672.9 1928.5L1674.5 1938.2L1676.1 1941.5L1677.7 1938.2L1679.3 1935L1684.2 1935L1685.8 1931.8L1687.4 1931.8L1689 1938.2L1690.6 1938.2L1692.2 1935L1693.8 1935L1695.5 1938.2L1697.1 1935L1698.7 1938.2L1700.3 1941.5L1701.9 1938.2L1703.5 1941.5L1705.1 1938.2L1706.8 1941.5L1708.4 1941.5L1710 1938.2L1711.6 1935L1713.2 1935L1714.8 1941.5L1722.9 1941.5L1724.5 1938.2L1726.1 1941.5L1727.7 1941.5L1729.3 1938.2L1730.9 1941.5L1732.6 1938.2L1734.2 1941.5L1743.8 1941.5L1745.5 1938.2L1747.1 1941.5L1750.3 1941.5L1751.9 1938.2L1753.5 1941.5L1756.8 1941.5L1758.4 1938.2L1760 1941.5L1860 1941.5L1861.6 1938.2L1863.2 1941.5L2006.8 1941.5"/>
<g><text class="tk" text-anchor="middle" transform="translate(1281.19 1979.3) scale(1 1.045)">-20</text><text class="tk" text-anchor="middle" transform="translate(1442.48 1979.3) scale(1 1.045)">-10</text><text class="tk" text-anchor="middle" transform="translate(1603.53 1979.3) scale(1 1.045)">0</text><text class="tk" text-anchor="middle" transform="translate(1764.82 1979.3) scale(1 1.045)">10</text><text class="tk" text-anchor="middle" transform="translate(1926.11 1979.3) scale(1 1.045)">20</text><text class="tk" text-anchor="end" transform="translate(1189.45 1951.8) scale(1 1.045)">0</text><text class="tk" text-anchor="end" transform="translate(1189.45 1790.51) scale(1 1.045)">50</text><text class="tk" text-anchor="end" transform="translate(1189.45 1629.22) scale(1 1.045)">100</text><text class="tk" text-anchor="end" transform="translate(1189.45 1467.93) scale(1 1.045)">150</text><text class="tk" text-anchor="end" transform="translate(1189.45 1306.64) scale(1 1.045)">200</text><text class="tk" text-anchor="end" transform="translate(1189.45 1145.35) scale(1 1.045)">250</text></g>
<text class="pl" x="1233.65" y="1196.7">(d)</text>
<text class="t" text-anchor="middle" transform="translate(1094.9 1507.25) rotate(-90)">number of cylinders</text>
<rect class="rb" x="1718.4" y="1194.15" width="33.4" height="33.4"/>
<rect class="bb" x="1718.4" y="1260.9" width="33.4" height="33.4"/>
<text class="lg" x="1772.3" y="1224.25">true</text>
<text class="lg" x="1773.1" y="1285.85">prediction</text>
<text class="t i" transform="translate(1569.25 2051.9) scale(1 1.04)">F</text><text class="s" x="1599.15" y="2063.9">y</text><text class="s" transform="translate(1601.85 2030.95) scale(1 1.04)">H</text>
</g>
</svg></body></html>
